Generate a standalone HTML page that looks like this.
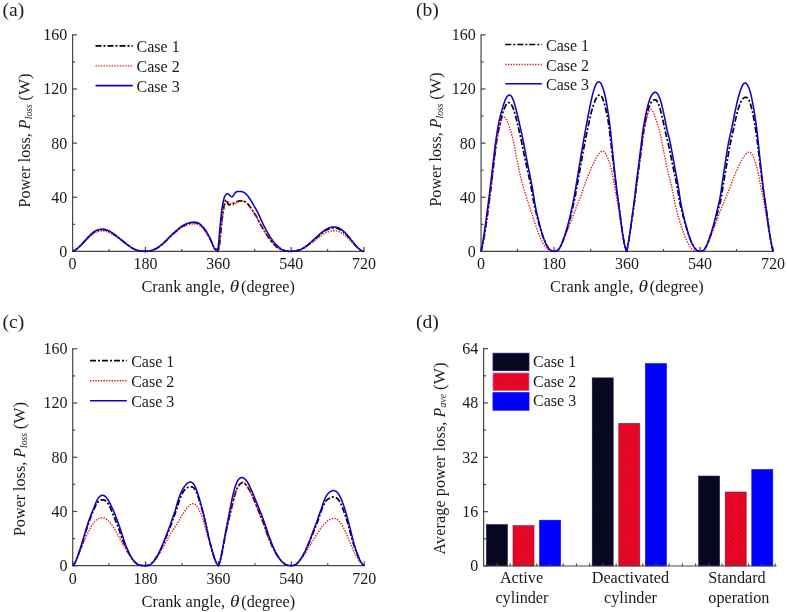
<!DOCTYPE html>
<html><head><meta charset="utf-8"><title>Power loss</title>
<style>html,body{margin:0;padding:0;background:#fff;}body{width:787px;height:612px;overflow:hidden;font-family:"Liberation Serif",serif;}svg{display:block;will-change:transform;}</style>
</head><body>
<svg width="787" height="612" viewBox="0 0 787 612" font-family="Liberation Serif, serif" fill="#1a1a1a">
<rect width="787" height="612" fill="#fff"/>
<g stroke="#484848" stroke-width="1.2" fill="none">
<path d="M72.6 34.199999999999996 V251.4 H364.6"/>
<path d="M72.6 251.40 h4.5"/>
<path d="M72.6 224.33 h2.5"/>
<path d="M72.6 197.25 h4.5"/>
<path d="M72.6 170.18 h2.5"/>
<path d="M72.6 143.10 h4.5"/>
<path d="M72.6 116.02 h2.5"/>
<path d="M72.6 88.95 h4.5"/>
<path d="M72.6 61.87 h2.5"/>
<path d="M72.6 34.80 h4.5"/>
<path d="M72.60 251.4 v-4.5"/>
<path d="M109.02 251.4 v-2.5"/>
<path d="M145.45 251.4 v-4.5"/>
<path d="M181.88 251.4 v-2.5"/>
<path d="M218.30 251.4 v-4.5"/>
<path d="M254.72 251.4 v-2.5"/>
<path d="M291.15 251.4 v-4.5"/>
<path d="M327.57 251.4 v-2.5"/>
<path d="M364.00 251.4 v-4.5"/>
</g>
<clipPath id="cla"><rect x="70.60" y="29.80" width="295.40" height="223.00"/></clipPath>
<g clip-path="url(#cla)" fill="none" stroke-linejoin="round">
<path d="M72.60 251.40 L73.00 251.21 L73.41 251.01 L73.81 250.81 L74.22 250.60 L74.62 250.37 L75.03 250.13 L75.43 249.88 L75.84 249.61 L76.24 249.34 L76.65 249.05 L77.05 248.74 L77.46 248.41 L77.86 248.07 L78.27 247.72 L78.67 247.36 L79.08 246.98 L79.48 246.60 L79.88 246.21 L80.29 245.82 L80.69 245.42 L81.10 245.01 L81.50 244.59 L81.91 244.16 L82.31 243.72 L82.72 243.28 L83.12 242.83 L83.53 242.38 L83.93 241.94 L84.34 241.49 L84.74 241.04 L85.15 240.60 L85.55 240.16 L85.96 239.72 L86.36 239.29 L86.77 238.85 L87.17 238.41 L87.57 237.97 L87.98 237.54 L88.38 237.11 L88.79 236.69 L89.19 236.27 L89.60 235.87 L90.00 235.49 L90.41 235.11 L90.81 234.74 L91.22 234.38 L91.62 234.03 L92.03 233.68 L92.43 233.33 L92.84 233.00 L93.24 232.67 L93.65 232.37 L94.05 232.07 L94.45 231.80 L94.86 231.55 L95.26 231.32 L95.67 231.12 L96.07 230.93 L96.48 230.76 L96.88 230.61 L97.29 230.47 L97.69 230.34 L98.10 230.23 L98.50 230.12 L98.91 230.03 L99.31 229.94 L99.72 229.87 L100.12 229.80 L100.53 229.74 L100.93 229.68 L101.34 229.63 L101.74 229.60 L102.14 229.58 L102.55 229.57 L102.95 229.58 L103.36 229.60 L103.76 229.63 L104.17 229.68 L104.57 229.73 L104.98 229.80 L105.38 229.87 L105.79 229.96 L106.19 230.07 L106.60 230.19 L107.00 230.34 L107.41 230.50 L107.81 230.68 L108.22 230.87 L108.62 231.07 L109.02 231.28 L109.43 231.49 L109.83 231.70 L110.24 231.92 L110.64 232.16 L111.05 232.40 L111.45 232.64 L111.86 232.90 L112.26 233.16 L112.67 233.42 L113.07 233.69 L113.48 233.97 L113.88 234.24 L114.29 234.52 L114.69 234.81 L115.10 235.10 L115.50 235.39 L115.91 235.69 L116.31 235.99 L116.71 236.30 L117.12 236.61 L117.52 236.93 L117.93 237.25 L118.33 237.57 L118.74 237.89 L119.14 238.21 L119.55 238.54 L119.95 238.86 L120.36 239.18 L120.76 239.50 L121.17 239.82 L121.57 240.14 L121.98 240.46 L122.38 240.78 L122.79 241.11 L123.19 241.43 L123.59 241.76 L124.00 242.09 L124.40 242.41 L124.81 242.74 L125.21 243.07 L125.62 243.39 L126.02 243.71 L126.43 244.03 L126.83 244.34 L127.24 244.64 L127.64 244.94 L128.05 245.23 L128.45 245.51 L128.86 245.79 L129.26 246.06 L129.67 246.34 L130.07 246.61 L130.48 246.88 L130.88 247.15 L131.28 247.42 L131.69 247.68 L132.09 247.94 L132.50 248.19 L132.90 248.43 L133.31 248.66 L133.71 248.89 L134.12 249.10 L134.52 249.29 L134.93 249.47 L135.33 249.64 L135.74 249.79 L136.14 249.93 L136.55 250.05 L136.95 250.17 L137.36 250.28 L137.76 250.39 L138.16 250.49 L138.57 250.59 L138.97 250.68 L139.38 250.76 L139.78 250.84 L140.19 250.91 L140.59 250.98 L141.00 251.04 L141.40 251.10 L141.81 251.15 L142.21 251.19 L142.62 251.23 L143.02 251.26 L143.43 251.30 L143.83 251.33 L144.24 251.35 L144.64 251.37 L145.05 251.38 L145.45 251.38 L145.85 251.37 L146.26 251.36 L146.66 251.33 L147.07 251.30 L147.47 251.26 L147.88 251.21 L148.28 251.16 L148.69 251.10 L149.09 251.04 L149.50 250.97 L149.90 250.90 L150.31 250.82 L150.71 250.74 L151.12 250.64 L151.52 250.53 L151.93 250.41 L152.33 250.27 L152.73 250.13 L153.14 249.98 L153.54 249.82 L153.95 249.65 L154.35 249.48 L154.76 249.30 L155.16 249.11 L155.57 248.91 L155.97 248.71 L156.38 248.49 L156.78 248.26 L157.19 248.01 L157.59 247.76 L158.00 247.49 L158.40 247.22 L158.81 246.94 L159.21 246.65 L159.62 246.36 L160.02 246.06 L160.42 245.75 L160.83 245.43 L161.23 245.11 L161.64 244.77 L162.04 244.43 L162.45 244.08 L162.85 243.72 L163.26 243.35 L163.66 242.97 L164.07 242.60 L164.47 242.22 L164.88 241.83 L165.28 241.45 L165.69 241.05 L166.09 240.66 L166.50 240.26 L166.90 239.85 L167.30 239.43 L167.71 239.02 L168.11 238.60 L168.52 238.18 L168.92 237.76 L169.33 237.35 L169.73 236.95 L170.14 236.55 L170.54 236.15 L170.95 235.77 L171.35 235.39 L171.76 235.02 L172.16 234.65 L172.57 234.28 L172.97 233.92 L173.38 233.57 L173.78 233.21 L174.19 232.86 L174.59 232.50 L174.99 232.15 L175.40 231.80 L175.80 231.45 L176.21 231.10 L176.61 230.75 L177.02 230.39 L177.42 230.03 L177.83 229.68 L178.23 229.33 L178.64 228.99 L179.04 228.65 L179.45 228.33 L179.85 228.01 L180.26 227.71 L180.66 227.43 L181.07 227.15 L181.47 226.88 L181.88 226.62 L182.28 226.37 L182.68 226.13 L183.09 225.89 L183.49 225.67 L183.90 225.45 L184.30 225.24 L184.71 225.04 L185.11 224.85 L185.52 224.66 L185.92 224.49 L186.33 224.32 L186.73 224.16 L187.14 224.00 L187.54 223.85 L187.95 223.70 L188.35 223.55 L188.76 223.42 L189.16 223.30 L189.56 223.19 L189.97 223.09 L190.37 223.00 L190.78 222.93 L191.18 222.87 L191.59 222.81 L191.99 222.77 L192.40 222.73 L192.80 222.69 L193.21 222.66 L193.61 222.64 L194.02 222.62 L194.42 222.62 L194.83 222.64 L195.23 222.67 L195.64 222.72 L196.04 222.79 L196.44 222.87 L196.85 222.98 L197.25 223.10 L197.66 223.24 L198.06 223.39 L198.47 223.57 L198.87 223.79 L199.28 224.04 L199.68 224.32 L200.09 224.64 L200.49 224.98 L200.90 225.35 L201.30 225.74 L201.71 226.14 L202.11 226.55 L202.52 226.97 L202.92 227.42 L203.33 227.88 L203.73 228.36 L204.13 228.86 L204.54 229.38 L204.94 229.93 L205.35 230.49 L205.75 231.08 L206.16 231.68 L206.56 232.31 L206.97 232.96 L207.37 233.63 L207.78 234.33 L208.18 235.06 L208.59 235.82 L208.99 236.59 L209.40 237.38 L209.80 238.20 L210.21 239.04 L210.61 239.91 L211.01 240.80 L211.42 241.73 L211.82 242.67 L212.23 243.63 L212.63 244.59 L213.04 245.53 L213.44 246.45 L213.85 247.33 L214.25 248.15 L214.66 248.85 L215.06 249.38 L215.47 249.66 L215.87 249.67 L216.28 249.46 L216.68 249.23 L217.09 249.22 L217.49 249.59 L217.90 250.37 L218.30 251.40 L218.30 251.40 L218.70 249.36 L219.11 246.99 L219.51 244.07 L219.92 240.57 L220.32 236.58 L220.73 232.36 L221.13 228.15 L221.54 224.15 L221.94 220.47 L222.35 217.13 L222.75 214.10 L223.16 211.32 L223.56 208.76 L223.97 206.41 L224.37 204.34 L224.78 202.58 L225.18 201.21 L225.58 200.27 L225.99 199.85 L226.39 199.97 L226.80 200.62 L227.20 201.63 L227.61 202.75 L228.01 203.74 L228.42 204.42 L228.82 204.76 L229.23 204.84 L229.63 204.75 L230.04 204.58 L230.44 204.38 L230.85 204.18 L231.25 203.99 L231.66 203.82 L232.06 203.66 L232.47 203.52 L232.87 203.39 L233.27 203.28 L233.68 203.16 L234.08 203.04 L234.49 202.90 L234.89 202.75 L235.30 202.59 L235.70 202.40 L236.11 202.21 L236.51 202.02 L236.92 201.82 L237.32 201.64 L237.73 201.46 L238.13 201.30 L238.54 201.15 L238.94 201.02 L239.35 200.92 L239.75 200.85 L240.15 200.81 L240.56 200.79 L240.96 200.78 L241.37 200.77 L241.77 200.78 L242.18 200.80 L242.58 200.83 L242.99 200.89 L243.39 200.98 L243.80 201.10 L244.20 201.26 L244.61 201.44 L245.01 201.65 L245.42 201.90 L245.82 202.18 L246.23 202.51 L246.63 202.87 L247.04 203.26 L247.44 203.67 L247.84 204.12 L248.25 204.59 L248.65 205.08 L249.06 205.60 L249.46 206.13 L249.87 206.67 L250.27 207.21 L250.68 207.76 L251.08 208.31 L251.49 208.87 L251.89 209.44 L252.30 210.02 L252.70 210.61 L253.11 211.22 L253.51 211.85 L253.92 212.49 L254.32 213.13 L254.72 213.79 L255.13 214.44 L255.53 215.10 L255.94 215.76 L256.34 216.43 L256.75 217.12 L257.15 217.82 L257.56 218.56 L257.96 219.33 L258.37 220.14 L258.77 220.96 L259.18 221.79 L259.58 222.61 L259.99 223.41 L260.39 224.18 L260.80 224.92 L261.20 225.65 L261.61 226.36 L262.01 227.06 L262.41 227.76 L262.82 228.45 L263.22 229.13 L263.63 229.82 L264.03 230.49 L264.44 231.16 L264.84 231.83 L265.25 232.48 L265.65 233.13 L266.06 233.77 L266.46 234.40 L266.87 235.02 L267.27 235.63 L267.68 236.23 L268.08 236.82 L268.49 237.41 L268.89 237.97 L269.29 238.53 L269.70 239.08 L270.10 239.61 L270.51 240.14 L270.91 240.66 L271.32 241.16 L271.72 241.66 L272.13 242.15 L272.53 242.64 L272.94 243.11 L273.34 243.58 L273.75 244.03 L274.15 244.48 L274.56 244.91 L274.96 245.33 L275.37 245.74 L275.77 246.13 L276.18 246.52 L276.58 246.88 L276.98 247.23 L277.39 247.55 L277.79 247.85 L278.20 248.13 L278.60 248.39 L279.01 248.63 L279.41 248.85 L279.82 249.06 L280.22 249.25 L280.63 249.43 L281.03 249.60 L281.44 249.75 L281.84 249.90 L282.25 250.03 L282.65 250.16 L283.06 250.28 L283.46 250.39 L283.87 250.49 L284.27 250.59 L284.67 250.68 L285.08 250.77 L285.48 250.85 L285.89 250.93 L286.29 251.01 L286.70 251.09 L287.10 251.16 L287.51 251.22 L287.91 251.28 L288.32 251.32 L288.72 251.36 L289.13 251.38 L289.53 251.39 L289.94 251.40 L290.34 251.40 L290.75 251.39 L291.15 251.39 L291.55 251.38 L291.96 251.36 L292.36 251.33 L292.77 251.30 L293.17 251.25 L293.58 251.20 L293.98 251.15 L294.39 251.09 L294.79 251.03 L295.20 250.97 L295.60 250.90 L296.01 250.83 L296.41 250.75 L296.82 250.66 L297.22 250.57 L297.63 250.47 L298.03 250.36 L298.43 250.25 L298.84 250.13 L299.24 250.00 L299.65 249.86 L300.05 249.72 L300.46 249.57 L300.86 249.41 L301.27 249.24 L301.67 249.05 L302.08 248.85 L302.48 248.64 L302.89 248.41 L303.29 248.17 L303.70 247.92 L304.10 247.67 L304.51 247.40 L304.91 247.14 L305.32 246.86 L305.72 246.59 L306.12 246.31 L306.53 246.02 L306.93 245.72 L307.34 245.42 L307.74 245.11 L308.15 244.79 L308.55 244.47 L308.96 244.14 L309.36 243.81 L309.77 243.48 L310.17 243.14 L310.58 242.81 L310.98 242.47 L311.39 242.13 L311.79 241.79 L312.20 241.44 L312.60 241.09 L313.00 240.74 L313.41 240.39 L313.81 240.04 L314.22 239.68 L314.62 239.32 L315.03 238.97 L315.43 238.61 L315.84 238.26 L316.24 237.90 L316.65 237.55 L317.05 237.19 L317.46 236.83 L317.86 236.47 L318.27 236.11 L318.67 235.75 L319.08 235.39 L319.48 235.04 L319.89 234.70 L320.29 234.36 L320.69 234.03 L321.10 233.71 L321.50 233.39 L321.91 233.08 L322.31 232.77 L322.72 232.46 L323.12 232.17 L323.53 231.87 L323.93 231.59 L324.34 231.31 L324.74 231.04 L325.15 230.79 L325.55 230.54 L325.96 230.31 L326.36 230.09 L326.77 229.88 L327.17 229.67 L327.57 229.48 L327.98 229.29 L328.38 229.11 L328.79 228.94 L329.19 228.79 L329.60 228.65 L330.00 228.53 L330.41 228.42 L330.81 228.33 L331.22 228.24 L331.62 228.16 L332.03 228.09 L332.43 228.02 L332.84 227.97 L333.24 227.94 L333.65 227.91 L334.05 227.91 L334.46 227.92 L334.86 227.95 L335.26 227.99 L335.67 228.04 L336.07 228.11 L336.48 228.19 L336.88 228.27 L337.29 228.37 L337.69 228.49 L338.10 228.62 L338.50 228.78 L338.91 228.97 L339.31 229.18 L339.72 229.40 L340.12 229.64 L340.53 229.90 L340.93 230.16 L341.34 230.43 L341.74 230.71 L342.14 230.99 L342.55 231.29 L342.95 231.60 L343.36 231.92 L343.76 232.25 L344.17 232.60 L344.57 232.96 L344.98 233.33 L345.38 233.71 L345.79 234.10 L346.19 234.50 L346.60 234.93 L347.00 235.36 L347.41 235.81 L347.81 236.27 L348.22 236.74 L348.62 237.21 L349.03 237.68 L349.43 238.16 L349.83 238.64 L350.24 239.12 L350.64 239.61 L351.05 240.10 L351.45 240.59 L351.86 241.09 L352.26 241.58 L352.67 242.07 L353.07 242.55 L353.48 243.03 L353.88 243.51 L354.29 243.98 L354.69 244.44 L355.10 244.91 L355.50 245.37 L355.91 245.82 L356.31 246.26 L356.72 246.68 L357.12 247.09 L357.52 247.49 L357.93 247.87 L358.33 248.24 L358.74 248.60 L359.14 248.95 L359.55 249.29 L359.95 249.61 L360.36 249.91 L360.76 250.19 L361.17 250.43 L361.57 250.65 L361.98 250.83 L362.38 250.98 L362.79 251.11 L363.19 251.22 L363.60 251.32 L364.00 251.40" stroke="#000000" stroke-width="1.7" stroke-dasharray="6 2 2 2"/>
<path d="M72.60 251.40 L73.00 251.22 L73.41 251.04 L73.81 250.85 L74.22 250.65 L74.62 250.44 L75.03 250.21 L75.43 249.98 L75.84 249.74 L76.24 249.48 L76.65 249.20 L77.05 248.92 L77.46 248.62 L77.86 248.30 L78.27 247.97 L78.67 247.63 L79.08 247.28 L79.48 246.93 L79.88 246.57 L80.29 246.20 L80.69 245.82 L81.10 245.44 L81.50 245.04 L81.91 244.64 L82.31 244.23 L82.72 243.82 L83.12 243.40 L83.53 242.98 L83.93 242.56 L84.34 242.14 L84.74 241.72 L85.15 241.31 L85.55 240.90 L85.96 240.49 L86.36 240.08 L86.77 239.67 L87.17 239.26 L87.57 238.85 L87.98 238.44 L88.38 238.04 L88.79 237.65 L89.19 237.26 L89.60 236.89 L90.00 236.53 L90.41 236.18 L90.81 235.83 L91.22 235.50 L91.62 235.16 L92.03 234.84 L92.43 234.52 L92.84 234.20 L93.24 233.90 L93.65 233.61 L94.05 233.34 L94.45 233.09 L94.86 232.85 L95.26 232.64 L95.67 232.45 L96.07 232.28 L96.48 232.12 L96.88 231.98 L97.29 231.85 L97.69 231.73 L98.10 231.63 L98.50 231.53 L98.91 231.44 L99.31 231.36 L99.72 231.29 L100.12 231.23 L100.53 231.16 L100.93 231.11 L101.34 231.07 L101.74 231.03 L102.14 231.01 L102.55 231.00 L102.95 231.01 L103.36 231.03 L103.76 231.06 L104.17 231.11 L104.57 231.16 L104.98 231.22 L105.38 231.30 L105.79 231.38 L106.19 231.48 L106.60 231.60 L107.00 231.74 L107.41 231.89 L107.81 232.06 L108.22 232.23 L108.62 232.42 L109.02 232.61 L109.43 232.81 L109.83 233.01 L110.24 233.22 L110.64 233.43 L111.05 233.66 L111.45 233.89 L111.86 234.12 L112.26 234.37 L112.67 234.61 L113.07 234.87 L113.48 235.12 L113.88 235.38 L114.29 235.64 L114.69 235.90 L115.10 236.17 L115.50 236.44 L115.91 236.72 L116.31 237.01 L116.71 237.29 L117.12 237.58 L117.52 237.88 L117.93 238.18 L118.33 238.48 L118.74 238.78 L119.14 239.08 L119.55 239.38 L119.95 239.68 L120.36 239.98 L120.76 240.28 L121.17 240.58 L121.57 240.88 L121.98 241.18 L122.38 241.48 L122.79 241.78 L123.19 242.08 L123.59 242.39 L124.00 242.70 L124.40 243.01 L124.81 243.31 L125.21 243.62 L125.62 243.92 L126.02 244.22 L126.43 244.52 L126.83 244.81 L127.24 245.09 L127.64 245.37 L128.05 245.64 L128.45 245.91 L128.86 246.17 L129.26 246.42 L129.67 246.68 L130.07 246.93 L130.48 247.19 L130.88 247.44 L131.28 247.69 L131.69 247.93 L132.09 248.17 L132.50 248.40 L132.90 248.63 L133.31 248.85 L133.71 249.05 L134.12 249.25 L134.52 249.43 L134.93 249.60 L135.33 249.75 L135.74 249.89 L136.14 250.02 L136.55 250.14 L136.95 250.25 L137.36 250.36 L137.76 250.46 L138.16 250.55 L138.57 250.64 L138.97 250.72 L139.38 250.80 L139.78 250.88 L140.19 250.95 L140.59 251.01 L141.00 251.06 L141.40 251.12 L141.81 251.16 L142.21 251.20 L142.62 251.24 L143.02 251.27 L143.43 251.30 L143.83 251.33 L144.24 251.35 L144.64 251.37 L145.05 251.38 L145.45 251.38 L145.85 251.38 L146.26 251.36 L146.66 251.34 L147.07 251.30 L147.47 251.26 L147.88 251.22 L148.28 251.17 L148.69 251.11 L149.09 251.05 L149.50 250.98 L149.90 250.91 L150.31 250.84 L150.71 250.75 L151.12 250.66 L151.52 250.55 L151.93 250.44 L152.33 250.31 L152.73 250.17 L153.14 250.03 L153.54 249.88 L153.95 249.72 L154.35 249.55 L154.76 249.38 L155.16 249.20 L155.57 249.02 L155.97 248.82 L156.38 248.61 L156.78 248.39 L157.19 248.16 L157.59 247.92 L158.00 247.67 L158.40 247.41 L158.81 247.14 L159.21 246.87 L159.62 246.59 L160.02 246.30 L160.42 246.01 L160.83 245.71 L161.23 245.40 L161.64 245.08 L162.04 244.75 L162.45 244.42 L162.85 244.07 L163.26 243.72 L163.66 243.37 L164.07 243.01 L164.47 242.65 L164.88 242.28 L165.28 241.91 L165.69 241.54 L166.09 241.16 L166.50 240.77 L166.90 240.38 L167.30 239.99 L167.71 239.59 L168.11 239.19 L168.52 238.79 L168.92 238.39 L169.33 238.00 L169.73 237.61 L170.14 237.23 L170.54 236.85 L170.95 236.49 L171.35 236.12 L171.76 235.77 L172.16 235.42 L172.57 235.07 L172.97 234.72 L173.38 234.38 L173.78 234.04 L174.19 233.70 L174.59 233.37 L174.99 233.03 L175.40 232.70 L175.80 232.36 L176.21 232.03 L176.61 231.69 L177.02 231.35 L177.42 231.01 L177.83 230.68 L178.23 230.34 L178.64 230.02 L179.04 229.70 L179.45 229.39 L179.85 229.09 L180.26 228.80 L180.66 228.53 L181.07 228.26 L181.47 228.01 L181.88 227.76 L182.28 227.52 L182.68 227.29 L183.09 227.06 L183.49 226.85 L183.90 226.64 L184.30 226.44 L184.71 226.24 L185.11 226.06 L185.52 225.89 L185.92 225.72 L186.33 225.56 L186.73 225.40 L187.14 225.25 L187.54 225.10 L187.95 224.96 L188.35 224.82 L188.76 224.69 L189.16 224.58 L189.56 224.47 L189.97 224.37 L190.37 224.29 L190.78 224.22 L191.18 224.17 L191.59 224.12 L191.99 224.08 L192.40 224.04 L192.80 224.01 L193.21 223.98 L193.61 223.96 L194.02 223.95 L194.42 223.95 L194.83 223.96 L195.23 223.99 L195.64 224.03 L196.04 224.10 L196.44 224.18 L196.85 224.28 L197.25 224.39 L197.66 224.52 L198.06 224.67 L198.47 224.84 L198.87 225.04 L199.28 225.28 L199.68 225.55 L200.09 225.85 L200.49 226.18 L200.90 226.54 L201.30 226.91 L201.71 227.29 L202.11 227.68 L202.52 228.09 L202.92 228.51 L203.33 228.95 L203.73 229.41 L204.13 229.89 L204.54 230.39 L204.94 230.91 L205.35 231.44 L205.75 232.00 L206.16 232.58 L206.56 233.18 L206.97 233.80 L207.37 234.44 L207.78 235.11 L208.18 235.81 L208.59 236.53 L208.99 237.27 L209.40 238.03 L209.80 238.81 L210.21 239.61 L210.61 240.44 L211.01 241.29 L211.42 242.17 L211.82 243.07 L212.23 243.99 L212.63 244.90 L213.04 245.80 L213.44 246.67 L213.85 247.51 L214.25 248.29 L214.66 248.98 L215.06 249.53 L215.47 249.88 L215.87 250.01 L216.28 249.95 L216.68 249.85 L217.09 249.87 L217.49 250.14 L217.90 250.68 L218.30 251.40 L218.30 251.40 L218.70 249.38 L219.11 247.06 L219.51 244.23 L219.92 240.83 L220.32 236.97 L220.73 232.87 L221.13 228.74 L221.54 224.80 L221.94 221.14 L222.35 217.82 L222.75 214.82 L223.16 212.10 L223.56 209.63 L223.97 207.44 L224.37 205.57 L224.78 204.05 L225.18 202.87 L225.58 202.03 L225.99 201.50 L226.39 201.23 L226.80 201.19 L227.20 201.34 L227.61 201.61 L228.01 201.93 L228.42 202.25 L228.82 202.56 L229.23 202.86 L229.63 203.15 L230.04 203.43 L230.44 203.69 L230.85 203.94 L231.25 204.16 L231.66 204.34 L232.06 204.50 L232.47 204.62 L232.87 204.73 L233.27 204.79 L233.68 204.81 L234.08 204.76 L234.49 204.62 L234.89 204.37 L235.30 204.04 L235.70 203.66 L236.11 203.25 L236.51 202.85 L236.92 202.49 L237.32 202.16 L237.73 201.89 L238.13 201.66 L238.54 201.47 L238.94 201.32 L239.35 201.20 L239.75 201.13 L240.15 201.08 L240.56 201.06 L240.96 201.05 L241.37 201.05 L241.77 201.05 L242.18 201.07 L242.58 201.10 L242.99 201.16 L243.39 201.25 L243.80 201.37 L244.20 201.53 L244.61 201.71 L245.01 201.92 L245.42 202.17 L245.82 202.46 L246.23 202.78 L246.63 203.14 L247.04 203.53 L247.44 203.94 L247.84 204.39 L248.25 204.86 L248.65 205.35 L249.06 205.87 L249.46 206.40 L249.87 206.94 L250.27 207.48 L250.68 208.03 L251.08 208.58 L251.49 209.14 L251.89 209.71 L252.30 210.29 L252.70 210.88 L253.11 211.49 L253.51 212.12 L253.92 212.76 L254.32 213.40 L254.72 214.06 L255.13 214.71 L255.53 215.37 L255.94 216.03 L256.34 216.70 L256.75 217.39 L257.15 218.09 L257.56 218.83 L257.96 219.60 L258.37 220.41 L258.77 221.23 L259.18 222.06 L259.58 222.88 L259.99 223.68 L260.39 224.45 L260.80 225.20 L261.20 225.92 L261.61 226.63 L262.01 227.34 L262.41 228.03 L262.82 228.72 L263.22 229.41 L263.63 230.09 L264.03 230.77 L264.44 231.44 L264.84 232.10 L265.25 232.76 L265.65 233.40 L266.06 234.02 L266.46 234.64 L266.87 235.24 L267.27 235.84 L267.68 236.42 L268.08 237.00 L268.49 237.56 L268.89 238.12 L269.29 238.67 L269.70 239.21 L270.10 239.74 L270.51 240.27 L270.91 240.79 L271.32 241.30 L271.72 241.80 L272.13 242.29 L272.53 242.77 L272.94 243.25 L273.34 243.71 L273.75 244.17 L274.15 244.61 L274.56 245.04 L274.96 245.46 L275.37 245.87 L275.77 246.27 L276.18 246.65 L276.58 247.02 L276.98 247.37 L277.39 247.69 L277.79 247.99 L278.20 248.27 L278.60 248.53 L279.01 248.77 L279.41 248.99 L279.82 249.20 L280.22 249.40 L280.63 249.57 L281.03 249.74 L281.44 249.88 L281.84 250.01 L282.25 250.14 L282.65 250.25 L283.06 250.35 L283.46 250.45 L283.87 250.54 L284.27 250.62 L284.67 250.70 L285.08 250.78 L285.48 250.86 L285.89 250.94 L286.29 251.01 L286.70 251.08 L287.10 251.15 L287.51 251.22 L287.91 251.28 L288.32 251.32 L288.72 251.35 L289.13 251.38 L289.53 251.39 L289.94 251.40 L290.34 251.40 L290.75 251.40 L291.15 251.39 L291.55 251.38 L291.96 251.36 L292.36 251.34 L292.77 251.31 L293.17 251.27 L293.58 251.22 L293.98 251.18 L294.39 251.12 L294.79 251.07 L295.20 251.01 L295.60 250.95 L296.01 250.89 L296.41 250.82 L296.82 250.74 L297.22 250.66 L297.63 250.57 L298.03 250.48 L298.43 250.38 L298.84 250.27 L299.24 250.16 L299.65 250.04 L300.05 249.92 L300.46 249.79 L300.86 249.64 L301.27 249.49 L301.67 249.33 L302.08 249.16 L302.48 248.97 L302.89 248.77 L303.29 248.56 L303.70 248.34 L304.10 248.12 L304.51 247.88 L304.91 247.65 L305.32 247.41 L305.72 247.17 L306.12 246.92 L306.53 246.67 L306.93 246.41 L307.34 246.14 L307.74 245.87 L308.15 245.59 L308.55 245.30 L308.96 245.01 L309.36 244.72 L309.77 244.43 L310.17 244.13 L310.58 243.83 L310.98 243.54 L311.39 243.24 L311.79 242.94 L312.20 242.63 L312.60 242.33 L313.00 242.02 L313.41 241.71 L313.81 241.40 L314.22 241.09 L314.62 240.78 L315.03 240.46 L315.43 240.15 L315.84 239.84 L316.24 239.53 L316.65 239.21 L317.05 238.89 L317.46 238.58 L317.86 238.26 L318.27 237.94 L318.67 237.62 L319.08 237.31 L319.48 237.00 L319.89 236.69 L320.29 236.40 L320.69 236.10 L321.10 235.82 L321.50 235.54 L321.91 235.26 L322.31 234.99 L322.72 234.72 L323.12 234.46 L323.53 234.20 L323.93 233.95 L324.34 233.71 L324.74 233.47 L325.15 233.25 L325.55 233.03 L325.96 232.83 L326.36 232.63 L326.77 232.45 L327.17 232.27 L327.57 232.09 L327.98 231.93 L328.38 231.77 L328.79 231.62 L329.19 231.49 L329.60 231.37 L330.00 231.26 L330.41 231.17 L330.81 231.09 L331.22 231.01 L331.62 230.94 L332.03 230.88 L332.43 230.83 L332.84 230.79 L333.24 230.75 L333.65 230.74 L334.05 230.73 L334.46 230.74 L334.86 230.76 L335.26 230.80 L335.67 230.85 L336.07 230.90 L336.48 230.97 L336.88 231.04 L337.29 231.13 L337.69 231.23 L338.10 231.34 L338.50 231.48 L338.91 231.65 L339.31 231.83 L339.72 232.03 L340.12 232.24 L340.53 232.47 L340.93 232.70 L341.34 232.94 L341.74 233.18 L342.14 233.44 L342.55 233.70 L342.95 233.97 L343.36 234.25 L343.76 234.55 L344.17 234.85 L344.57 235.17 L344.98 235.49 L345.38 235.83 L345.79 236.17 L346.19 236.53 L346.60 236.90 L347.00 237.28 L347.41 237.67 L347.81 238.07 L348.22 238.48 L348.62 238.90 L349.03 239.32 L349.43 239.74 L349.83 240.16 L350.24 240.59 L350.64 241.02 L351.05 241.45 L351.45 241.89 L351.86 242.32 L352.26 242.76 L352.67 243.19 L353.07 243.62 L353.48 244.04 L353.88 244.46 L354.29 244.88 L354.69 245.29 L355.10 245.69 L355.50 246.10 L355.91 246.49 L356.31 246.88 L356.72 247.25 L357.12 247.61 L357.52 247.96 L357.93 248.29 L358.33 248.62 L358.74 248.93 L359.14 249.24 L359.55 249.54 L359.95 249.82 L360.36 250.08 L360.76 250.32 L361.17 250.54 L361.57 250.73 L361.98 250.89 L362.38 251.03 L362.79 251.14 L363.19 251.24 L363.60 251.32 L364.00 251.40" stroke="#e01818" stroke-width="1.4" stroke-dasharray="1.35 1.35"/>
<path d="M72.60 251.40 L73.00 251.21 L73.41 251.01 L73.81 250.80 L74.22 250.58 L74.62 250.35 L75.03 250.11 L75.43 249.86 L75.84 249.59 L76.24 249.31 L76.65 249.01 L77.05 248.70 L77.46 248.37 L77.86 248.03 L78.27 247.67 L78.67 247.30 L79.08 246.92 L79.48 246.53 L79.88 246.14 L80.29 245.74 L80.69 245.33 L81.10 244.91 L81.50 244.49 L81.91 244.05 L82.31 243.61 L82.72 243.16 L83.12 242.70 L83.53 242.25 L83.93 241.79 L84.34 241.33 L84.74 240.88 L85.15 240.43 L85.55 239.99 L85.96 239.54 L86.36 239.10 L86.77 238.65 L87.17 238.20 L87.57 237.76 L87.98 237.32 L88.38 236.88 L88.79 236.46 L89.19 236.04 L89.60 235.63 L90.00 235.24 L90.41 234.85 L90.81 234.48 L91.22 234.12 L91.62 233.76 L92.03 233.40 L92.43 233.05 L92.84 232.71 L93.24 232.39 L93.65 232.07 L94.05 231.78 L94.45 231.50 L94.86 231.25 L95.26 231.01 L95.67 230.81 L96.07 230.62 L96.48 230.45 L96.88 230.29 L97.29 230.15 L97.69 230.02 L98.10 229.91 L98.50 229.80 L98.91 229.70 L99.31 229.62 L99.72 229.54 L100.12 229.47 L100.53 229.41 L100.93 229.35 L101.34 229.30 L101.74 229.26 L102.14 229.24 L102.55 229.23 L102.95 229.24 L103.36 229.26 L103.76 229.30 L104.17 229.34 L104.57 229.40 L104.98 229.47 L105.38 229.55 L105.79 229.64 L106.19 229.75 L106.60 229.88 L107.00 230.02 L107.41 230.19 L107.81 230.37 L108.22 230.57 L108.62 230.77 L109.02 230.98 L109.43 231.19 L109.83 231.41 L110.24 231.63 L110.64 231.87 L111.05 232.11 L111.45 232.36 L111.86 232.62 L112.26 232.88 L112.67 233.15 L113.07 233.43 L113.48 233.70 L113.88 233.98 L114.29 234.27 L114.69 234.55 L115.10 234.84 L115.50 235.14 L115.91 235.44 L116.31 235.75 L116.71 236.07 L117.12 236.38 L117.52 236.70 L117.93 237.03 L118.33 237.35 L118.74 237.68 L119.14 238.01 L119.55 238.34 L119.95 238.66 L120.36 238.99 L120.76 239.32 L121.17 239.64 L121.57 239.97 L121.98 240.29 L122.38 240.62 L122.79 240.94 L123.19 241.28 L123.59 241.61 L124.00 241.94 L124.40 242.28 L124.81 242.61 L125.21 242.94 L125.62 243.27 L126.02 243.59 L126.43 243.91 L126.83 244.23 L127.24 244.54 L127.64 244.84 L128.05 245.14 L128.45 245.42 L128.86 245.71 L129.26 245.99 L129.67 246.26 L130.07 246.54 L130.48 246.81 L130.88 247.09 L131.28 247.36 L131.69 247.62 L132.09 247.88 L132.50 248.14 L132.90 248.38 L133.31 248.62 L133.71 248.84 L134.12 249.06 L134.52 249.26 L134.93 249.44 L135.33 249.61 L135.74 249.76 L136.14 249.90 L136.55 250.03 L136.95 250.15 L137.36 250.26 L137.76 250.37 L138.16 250.48 L138.57 250.57 L138.97 250.67 L139.38 250.75 L139.78 250.83 L140.19 250.91 L140.59 250.98 L141.00 251.04 L141.40 251.09 L141.81 251.14 L142.21 251.19 L142.62 251.23 L143.02 251.26 L143.43 251.30 L143.83 251.33 L144.24 251.35 L144.64 251.37 L145.05 251.38 L145.45 251.38 L145.85 251.37 L146.26 251.36 L146.66 251.33 L147.07 251.30 L147.47 251.26 L147.88 251.21 L148.28 251.15 L148.69 251.09 L149.09 251.03 L149.50 250.96 L149.90 250.89 L150.31 250.81 L150.71 250.72 L151.12 250.62 L151.52 250.51 L151.93 250.38 L152.33 250.25 L152.73 250.10 L153.14 249.95 L153.54 249.79 L153.95 249.62 L154.35 249.44 L154.76 249.26 L155.16 249.07 L155.57 248.87 L155.97 248.66 L156.38 248.44 L156.78 248.21 L157.19 247.96 L157.59 247.70 L158.00 247.43 L158.40 247.16 L158.81 246.87 L159.21 246.58 L159.62 246.28 L160.02 245.98 L160.42 245.67 L160.83 245.35 L161.23 245.02 L161.64 244.68 L162.04 244.33 L162.45 243.97 L162.85 243.60 L163.26 243.23 L163.66 242.85 L164.07 242.47 L164.47 242.08 L164.88 241.69 L165.28 241.30 L165.69 240.90 L166.09 240.50 L166.50 240.09 L166.90 239.68 L167.30 239.26 L167.71 238.83 L168.11 238.41 L168.52 237.98 L168.92 237.56 L169.33 237.14 L169.73 236.73 L170.14 236.32 L170.54 235.93 L170.95 235.54 L171.35 235.15 L171.76 234.77 L172.16 234.40 L172.57 234.03 L172.97 233.66 L173.38 233.30 L173.78 232.94 L174.19 232.58 L174.59 232.22 L174.99 231.87 L175.40 231.51 L175.80 231.15 L176.21 230.80 L176.61 230.44 L177.02 230.07 L177.42 229.71 L177.83 229.35 L178.23 229.00 L178.64 228.65 L179.04 228.31 L179.45 227.98 L179.85 227.66 L180.26 227.36 L180.66 227.06 L181.07 226.78 L181.47 226.51 L181.88 226.25 L182.28 225.99 L182.68 225.75 L183.09 225.51 L183.49 225.28 L183.90 225.06 L184.30 224.84 L184.71 224.64 L185.11 224.45 L185.52 224.26 L185.92 224.08 L186.33 223.91 L186.73 223.75 L187.14 223.59 L187.54 223.43 L187.95 223.28 L188.35 223.13 L188.76 223.00 L189.16 222.87 L189.56 222.76 L189.97 222.66 L190.37 222.57 L190.78 222.49 L191.18 222.43 L191.59 222.38 L191.99 222.33 L192.40 222.29 L192.80 222.26 L193.21 222.23 L193.61 222.20 L194.02 222.19 L194.42 222.19 L194.83 222.20 L195.23 222.23 L195.64 222.28 L196.04 222.35 L196.44 222.44 L196.85 222.55 L197.25 222.67 L197.66 222.80 L198.06 222.96 L198.47 223.14 L198.87 223.36 L199.28 223.61 L199.68 223.90 L200.09 224.22 L200.49 224.58 L200.90 224.95 L201.30 225.34 L201.71 225.75 L202.11 226.17 L202.52 226.60 L202.92 227.05 L203.33 227.51 L203.73 228.00 L204.13 228.51 L204.54 229.05 L204.94 229.60 L205.35 230.17 L205.75 230.76 L206.16 231.38 L206.56 232.01 L206.97 232.67 L207.37 233.36 L207.78 234.07 L208.18 234.81 L208.59 235.58 L208.99 236.36 L209.40 237.17 L209.80 238.00 L210.21 238.85 L210.61 239.73 L211.01 240.64 L211.42 241.58 L211.82 242.54 L212.23 243.52 L212.63 244.49 L213.04 245.45 L213.44 246.38 L213.85 247.27 L214.25 248.09 L214.66 248.81 L215.06 249.35 L215.47 249.65 L215.87 249.71 L216.28 249.62 L216.68 249.59 L217.09 249.85 L217.49 250.49 L217.90 251.40 L217.90 251.40 L218.30 246.94 L218.70 242.40 L219.11 237.76 L219.51 233.07 L219.92 228.44 L220.32 223.99 L220.73 219.81 L221.13 215.94 L221.54 212.42 L221.94 209.26 L222.35 206.48 L222.75 204.04 L223.16 201.93 L223.56 200.13 L223.97 198.61 L224.37 197.36 L224.78 196.35 L225.18 195.56 L225.58 194.94 L225.99 194.48 L226.39 194.15 L226.80 193.94 L227.20 193.84 L227.61 193.85 L228.01 193.96 L228.42 194.16 L228.82 194.45 L229.23 194.80 L229.63 195.20 L230.04 195.62 L230.44 196.02 L230.85 196.36 L231.25 196.60 L231.66 196.73 L232.06 196.72 L232.47 196.54 L232.87 196.22 L233.27 195.75 L233.68 195.19 L234.08 194.55 L234.49 193.91 L234.89 193.30 L235.30 192.78 L235.70 192.36 L236.11 192.04 L236.51 191.81 L236.92 191.66 L237.32 191.57 L237.73 191.51 L238.13 191.48 L238.54 191.46 L238.94 191.45 L239.35 191.44 L239.75 191.45 L240.15 191.46 L240.56 191.48 L240.96 191.51 L241.37 191.55 L241.77 191.61 L242.18 191.69 L242.58 191.81 L242.99 191.96 L243.39 192.13 L243.80 192.34 L244.20 192.58 L244.61 192.84 L245.01 193.13 L245.42 193.45 L245.82 193.80 L246.23 194.19 L246.63 194.61 L247.04 195.06 L247.44 195.54 L247.84 196.04 L248.25 196.58 L248.65 197.13 L249.06 197.70 L249.46 198.29 L249.87 198.90 L250.27 199.52 L250.68 200.16 L251.08 200.81 L251.49 201.47 L251.89 202.15 L252.30 202.83 L252.70 203.53 L253.11 204.23 L253.51 204.93 L253.92 205.64 L254.32 206.34 L254.72 207.05 L255.13 207.75 L255.53 208.46 L255.94 209.18 L256.34 209.91 L256.75 210.64 L257.15 211.39 L257.56 212.15 L257.96 212.92 L258.37 213.73 L258.77 214.56 L259.18 215.43 L259.58 216.34 L259.99 217.27 L260.39 218.22 L260.80 219.17 L261.20 220.10 L261.61 221.00 L262.01 221.88 L262.41 222.73 L262.82 223.56 L263.22 224.38 L263.63 225.19 L264.03 225.98 L264.44 226.77 L264.84 227.56 L265.25 228.33 L265.65 229.10 L266.06 229.86 L266.46 230.61 L266.87 231.35 L267.27 232.08 L267.68 232.79 L268.08 233.50 L268.49 234.20 L268.89 234.88 L269.29 235.55 L269.70 236.21 L270.10 236.85 L270.51 237.47 L270.91 238.08 L271.32 238.67 L271.72 239.24 L272.13 239.80 L272.53 240.34 L272.94 240.87 L273.34 241.39 L273.75 241.89 L274.15 242.38 L274.56 242.86 L274.96 243.32 L275.37 243.77 L275.77 244.21 L276.18 244.63 L276.58 245.04 L276.98 245.43 L277.39 245.81 L277.79 246.18 L278.20 246.54 L278.60 246.89 L279.01 247.23 L279.41 247.57 L279.82 247.90 L280.22 248.22 L280.63 248.54 L281.03 248.84 L281.44 249.12 L281.84 249.38 L282.25 249.62 L282.65 249.83 L283.06 250.02 L283.46 250.20 L283.87 250.35 L284.27 250.50 L284.67 250.62 L285.08 250.74 L285.48 250.84 L285.89 250.93 L286.29 251.02 L286.70 251.10 L287.10 251.17 L287.51 251.23 L287.91 251.28 L288.32 251.33 L288.72 251.36 L289.13 251.38 L289.53 251.39 L289.94 251.40 L290.34 251.40 L290.75 251.39 L291.15 251.39 L291.55 251.38 L291.96 251.36 L292.36 251.33 L292.77 251.29 L293.17 251.25 L293.58 251.19 L293.98 251.14 L294.39 251.08 L294.79 251.01 L295.20 250.94 L295.60 250.87 L296.01 250.80 L296.41 250.71 L296.82 250.63 L297.22 250.53 L297.63 250.43 L298.03 250.32 L298.43 250.20 L298.84 250.07 L299.24 249.94 L299.65 249.80 L300.05 249.65 L300.46 249.49 L300.86 249.33 L301.27 249.15 L301.67 248.96 L302.08 248.75 L302.48 248.52 L302.89 248.29 L303.29 248.04 L303.70 247.78 L304.10 247.51 L304.51 247.24 L304.91 246.96 L305.32 246.68 L305.72 246.39 L306.12 246.10 L306.53 245.80 L306.93 245.49 L307.34 245.17 L307.74 244.85 L308.15 244.52 L308.55 244.18 L308.96 243.84 L309.36 243.49 L309.77 243.14 L310.17 242.79 L310.58 242.44 L310.98 242.09 L311.39 241.74 L311.79 241.38 L312.20 241.02 L312.60 240.66 L313.00 240.30 L313.41 239.93 L313.81 239.56 L314.22 239.19 L314.62 238.82 L315.03 238.45 L315.43 238.08 L315.84 237.71 L316.24 237.34 L316.65 236.97 L317.05 236.60 L317.46 236.22 L317.86 235.85 L318.27 235.47 L318.67 235.10 L319.08 234.72 L319.48 234.36 L319.89 234.00 L320.29 233.65 L320.69 233.30 L321.10 232.97 L321.50 232.63 L321.91 232.31 L322.31 231.99 L322.72 231.67 L323.12 231.36 L323.53 231.05 L323.93 230.76 L324.34 230.47 L324.74 230.19 L325.15 229.92 L325.55 229.67 L325.96 229.43 L326.36 229.20 L326.77 228.97 L327.17 228.76 L327.57 228.56 L327.98 228.36 L328.38 228.18 L328.79 228.00 L329.19 227.84 L329.60 227.70 L330.00 227.58 L330.41 227.46 L330.81 227.36 L331.22 227.27 L331.62 227.19 L332.03 227.12 L332.43 227.05 L332.84 227.00 L333.24 226.96 L333.65 226.94 L334.05 226.93 L334.46 226.95 L334.86 226.97 L335.26 227.02 L335.67 227.07 L336.07 227.14 L336.48 227.22 L336.88 227.31 L337.29 227.41 L337.69 227.53 L338.10 227.67 L338.50 227.84 L338.91 228.03 L339.31 228.25 L339.72 228.48 L340.12 228.74 L340.53 229.00 L340.93 229.27 L341.34 229.55 L341.74 229.84 L342.14 230.14 L342.55 230.45 L342.95 230.77 L343.36 231.11 L343.76 231.45 L344.17 231.81 L344.57 232.19 L344.98 232.57 L345.38 232.96 L345.79 233.37 L346.19 233.79 L346.60 234.23 L347.00 234.69 L347.41 235.15 L347.81 235.63 L348.22 236.12 L348.62 236.61 L349.03 237.11 L349.43 237.60 L349.83 238.10 L350.24 238.61 L350.64 239.12 L351.05 239.63 L351.45 240.14 L351.86 240.66 L352.26 241.17 L352.67 241.68 L353.07 242.19 L353.48 242.69 L353.88 243.18 L354.29 243.67 L354.69 244.16 L355.10 244.64 L355.50 245.12 L355.91 245.59 L356.31 246.04 L356.72 246.49 L357.12 246.91 L357.52 247.32 L357.93 247.72 L358.33 248.11 L358.74 248.48 L359.14 248.84 L359.55 249.20 L359.95 249.53 L360.36 249.84 L360.76 250.13 L361.17 250.38 L361.57 250.61 L361.98 250.80 L362.38 250.96 L362.79 251.10 L363.19 251.21 L363.60 251.31 L364.00 251.40" stroke="#1400c8" stroke-width="1.55"/>
</g>
<text x="67.3" y="256.8" font-size="16" text-anchor="end" >0</text>
<text x="67.3" y="202.65" font-size="16" text-anchor="end" >40</text>
<text x="67.3" y="148.5" font-size="16" text-anchor="end" >80</text>
<text x="67.3" y="94.35" font-size="16" text-anchor="end" >120</text>
<text x="67.3" y="40.2" font-size="16" text-anchor="end" >160</text>
<text x="72.6" y="269.3" font-size="16" text-anchor="middle" >0</text>
<text x="145.45" y="269.3" font-size="16" text-anchor="middle" >180</text>
<text x="218.3" y="269.3" font-size="16" text-anchor="middle" >360</text>
<text x="291.15" y="269.3" font-size="16" text-anchor="middle" >540</text>
<text x="364.0" y="269.3" font-size="16" text-anchor="middle" >720</text>
<text x="2.6" y="16.2" font-size="19.5" text-anchor="start" >(a)</text>
<path d="M95.5 45.9 H132.8" stroke="#000000" stroke-width="1.7" stroke-dasharray="6 2 2 2" fill="none"/>
<path d="M95.5 65.9 H132.8" stroke="#e01818" stroke-width="1.4" stroke-dasharray="1.35 1.35" fill="none"/>
<path d="M95.5 85.6 H132.8" stroke="#1400c8" stroke-width="1.55" fill="none"/>
<text x="136.6" y="51.9" font-size="16" text-anchor="start" >Case 1</text>
<text x="136.6" y="71.9" font-size="16" text-anchor="start" >Case 2</text>
<text x="136.6" y="91.6" font-size="16" text-anchor="start" >Case 3</text>
<g transform="translate(30.0,140.4) rotate(-90)"><text x="0" y="0" font-size="16" text-anchor="middle" letter-spacing="0.05">Power loss, <tspan font-style="italic">P</tspan><tspan font-style="italic" font-size="9.5" dy="1.5">loss</tspan><tspan dy="-1.5" dx="-0.6" font-size="16.9"> (W)</tspan></text></g>
<text x="141.4" y="291.8" font-size="16.35" text-anchor="start" >Crank angle,</text>
<text transform="translate(229.79999999999998,291.8) scale(1.2,1)" font-size="16" font-style="italic">θ</text>
<text x="241.1" y="291.8" font-size="16.15" text-anchor="start" >(degree)</text>
<g stroke="#484848" stroke-width="1.2" fill="none">
<path d="M481.05 34.199999999999996 V251.45 H773.6"/>
<path d="M481.05 251.45 h4.5"/>
<path d="M481.05 224.37 h2.5"/>
<path d="M481.05 197.29 h4.5"/>
<path d="M481.05 170.21 h2.5"/>
<path d="M481.05 143.12 h4.5"/>
<path d="M481.05 116.04 h2.5"/>
<path d="M481.05 88.96 h4.5"/>
<path d="M481.05 61.88 h2.5"/>
<path d="M481.05 34.80 h4.5"/>
<path d="M481.05 251.45 v-4.5"/>
<path d="M517.54 251.45 v-2.5"/>
<path d="M554.04 251.45 v-4.5"/>
<path d="M590.53 251.45 v-2.5"/>
<path d="M627.02 251.45 v-4.5"/>
<path d="M663.52 251.45 v-2.5"/>
<path d="M700.01 251.45 v-4.5"/>
<path d="M736.51 251.45 v-2.5"/>
<path d="M773.00 251.45 v-4.5"/>
</g>
<clipPath id="clb"><rect x="479.05" y="29.80" width="295.95" height="223.05"/></clipPath>
<g clip-path="url(#clb)" fill="none" stroke-linejoin="round">
<path d="M481.05 251.45 L481.46 249.87 L481.86 248.23 L482.27 246.51 L482.67 244.68 L483.08 242.72 L483.48 240.63 L483.89 238.41 L484.30 236.07 L484.70 233.62 L485.11 231.06 L485.51 228.41 L485.92 225.70 L486.33 222.92 L486.73 220.10 L487.14 217.23 L487.54 214.31 L487.95 211.34 L488.35 208.31 L488.76 205.25 L489.17 202.15 L489.57 199.02 L489.98 195.87 L490.38 192.68 L490.79 189.43 L491.20 186.10 L491.60 182.68 L492.01 179.21 L492.41 175.72 L492.82 172.24 L493.22 168.79 L493.63 165.35 L494.04 161.91 L494.44 158.47 L494.85 155.04 L495.25 151.65 L495.66 148.33 L496.07 145.15 L496.47 142.15 L496.88 139.38 L497.28 136.86 L497.69 134.60 L498.09 132.54 L498.50 130.64 L498.91 128.83 L499.31 127.06 L499.72 125.28 L500.12 123.48 L500.53 121.67 L500.94 119.87 L501.34 118.14 L501.75 116.51 L502.15 114.99 L502.56 113.60 L502.96 112.31 L503.37 111.12 L503.78 109.99 L504.18 108.93 L504.59 107.93 L504.99 107.00 L505.40 106.13 L505.81 105.34 L506.21 104.63 L506.62 104.00 L507.02 103.46 L507.43 103.05 L507.83 102.77 L508.24 102.63 L508.65 102.61 L509.05 102.68 L509.46 102.84 L509.86 103.07 L510.27 103.38 L510.68 103.77 L511.08 104.25 L511.49 104.81 L511.89 105.48 L512.30 106.25 L512.70 107.14 L513.11 108.13 L513.52 109.22 L513.92 110.42 L514.33 111.70 L514.73 113.07 L515.14 114.51 L515.55 116.00 L515.95 117.52 L516.36 119.07 L516.76 120.66 L517.17 122.29 L517.57 123.96 L517.98 125.67 L518.39 127.43 L518.79 129.22 L519.20 131.03 L519.60 132.85 L520.01 134.66 L520.42 136.48 L520.82 138.31 L521.23 140.16 L521.63 142.07 L522.04 144.02 L522.44 146.03 L522.85 148.08 L523.26 150.15 L523.66 152.20 L524.07 154.22 L524.47 156.19 L524.88 158.11 L525.28 159.98 L525.69 161.84 L526.10 163.69 L526.50 165.54 L526.91 167.40 L527.31 169.27 L527.72 171.15 L528.13 173.02 L528.53 174.89 L528.94 176.76 L529.34 178.63 L529.75 180.51 L530.15 182.44 L530.56 184.43 L530.97 186.51 L531.37 188.67 L531.78 190.91 L532.18 193.22 L532.59 195.56 L533.00 197.91 L533.40 200.23 L533.81 202.47 L534.21 204.58 L534.62 206.55 L535.02 208.39 L535.43 210.12 L535.84 211.79 L536.24 213.41 L536.65 215.02 L537.05 216.62 L537.46 218.21 L537.87 219.78 L538.27 221.31 L538.68 222.82 L539.08 224.28 L539.49 225.71 L539.89 227.10 L540.30 228.46 L540.71 229.78 L541.11 231.07 L541.52 232.32 L541.92 233.53 L542.33 234.72 L542.74 235.86 L543.14 236.98 L543.55 238.06 L543.95 239.10 L544.36 240.11 L544.76 241.08 L545.17 242.02 L545.58 242.92 L545.98 243.78 L546.39 244.59 L546.79 245.37 L547.20 246.09 L547.61 246.77 L548.01 247.40 L548.42 247.98 L548.82 248.50 L549.23 248.98 L549.63 249.41 L550.04 249.78 L550.45 250.11 L550.85 250.40 L551.26 250.64 L551.66 250.83 L552.07 251.00 L552.48 251.13 L552.88 251.24 L553.29 251.32 L553.69 251.37 L554.10 251.39 L554.50 251.38 L554.91 251.35 L555.32 251.29 L555.72 251.21 L556.13 251.10 L556.53 250.97 L556.94 250.81 L557.35 250.59 L557.75 250.30 L558.16 249.93 L558.56 249.47 L558.97 248.94 L559.37 248.34 L559.78 247.68 L560.19 246.97 L560.59 246.19 L561.00 245.36 L561.40 244.47 L561.81 243.53 L562.21 242.57 L562.62 241.59 L563.03 240.61 L563.43 239.60 L563.84 238.57 L564.24 237.50 L564.65 236.38 L565.06 235.22 L565.46 234.01 L565.87 232.77 L566.27 231.50 L566.68 230.23 L567.08 228.95 L567.49 227.66 L567.90 226.35 L568.30 225.00 L568.71 223.60 L569.11 222.14 L569.52 220.60 L569.93 219.01 L570.33 217.38 L570.74 215.71 L571.14 214.04 L571.55 212.35 L571.95 210.65 L572.36 208.94 L572.77 207.23 L573.17 205.50 L573.58 203.75 L573.98 201.98 L574.39 200.16 L574.80 198.25 L575.20 196.24 L575.61 194.10 L576.01 191.86 L576.42 189.53 L576.82 187.18 L577.23 184.82 L577.64 182.50 L578.04 180.21 L578.45 177.94 L578.85 175.68 L579.26 173.42 L579.67 171.17 L580.07 168.90 L580.48 166.63 L580.88 164.34 L581.29 162.06 L581.69 159.78 L582.10 157.51 L582.51 155.27 L582.91 153.04 L583.32 150.83 L583.72 148.63 L584.13 146.45 L584.54 144.30 L584.94 142.20 L585.35 140.15 L585.75 138.15 L586.16 136.16 L586.56 134.17 L586.97 132.17 L587.38 130.16 L587.78 128.16 L588.19 126.18 L588.59 124.25 L589.00 122.35 L589.41 120.50 L589.81 118.69 L590.22 116.92 L590.62 115.20 L591.03 113.52 L591.43 111.90 L591.84 110.35 L592.25 108.88 L592.65 107.49 L593.06 106.18 L593.46 104.95 L593.87 103.78 L594.28 102.67 L594.68 101.63 L595.09 100.64 L595.49 99.72 L595.90 98.87 L596.30 98.10 L596.71 97.41 L597.12 96.80 L597.52 96.29 L597.93 95.86 L598.33 95.54 L598.74 95.31 L599.15 95.17 L599.55 95.11 L599.96 95.15 L600.36 95.29 L600.77 95.55 L601.17 95.93 L601.58 96.46 L601.99 97.13 L602.39 97.95 L602.80 98.90 L603.20 99.96 L603.61 101.12 L604.01 102.39 L604.42 103.76 L604.83 105.24 L605.23 106.82 L605.64 108.48 L606.04 110.21 L606.45 112.02 L606.86 113.91 L607.26 115.93 L607.67 118.10 L608.07 120.44 L608.48 123.00 L608.88 125.79 L609.29 128.81 L609.70 132.04 L610.10 135.44 L610.51 138.96 L610.91 142.52 L611.32 146.10 L611.73 149.65 L612.13 153.16 L612.54 156.63 L612.94 160.08 L613.35 163.51 L613.75 166.93 L614.16 170.34 L614.57 173.72 L614.97 177.06 L615.38 180.34 L615.78 183.55 L616.19 186.67 L616.60 189.73 L617.00 192.71 L617.41 195.61 L617.81 198.44 L618.22 201.23 L618.62 204.03 L619.03 206.90 L619.44 209.87 L619.84 212.93 L620.25 216.06 L620.65 219.21 L621.06 222.32 L621.47 225.38 L621.87 228.36 L622.28 231.25 L622.68 234.03 L623.09 236.68 L623.49 239.18 L623.90 241.49 L624.31 243.60 L624.71 245.46 L625.12 247.08 L625.52 248.45 L625.93 249.59 L626.34 250.57 L626.74 251.45 L626.74 251.45 L627.15 249.57 L627.55 247.62 L627.96 245.55 L628.36 243.34 L628.77 240.98 L629.17 238.49 L629.58 235.89 L629.98 233.20 L630.39 230.46 L630.79 227.68 L631.20 224.89 L631.60 222.09 L632.01 219.30 L632.41 216.52 L632.82 213.74 L633.22 210.96 L633.63 208.15 L634.03 205.28 L634.44 202.33 L634.84 199.26 L635.25 196.09 L635.65 192.84 L636.06 189.56 L636.46 186.32 L636.87 183.15 L637.28 180.04 L637.68 176.96 L638.09 173.88 L638.49 170.79 L638.90 167.69 L639.30 164.62 L639.71 161.57 L640.11 158.54 L640.52 155.51 L640.92 152.45 L641.33 149.34 L641.73 146.17 L642.14 142.98 L642.54 139.81 L642.95 136.75 L643.35 133.87 L643.76 131.19 L644.16 128.68 L644.57 126.33 L644.97 124.11 L645.38 121.98 L645.78 119.94 L646.19 117.97 L646.59 116.09 L647.00 114.29 L647.40 112.60 L647.81 111.02 L648.21 109.56 L648.62 108.21 L649.02 106.98 L649.43 105.88 L649.83 104.89 L650.24 104.02 L650.64 103.25 L651.05 102.59 L651.46 102.01 L651.86 101.50 L652.27 101.06 L652.67 100.68 L653.08 100.36 L653.48 100.10 L653.89 99.91 L654.29 99.79 L654.70 99.73 L655.10 99.74 L655.51 99.81 L655.91 99.99 L656.32 100.28 L656.72 100.71 L657.13 101.29 L657.53 101.99 L657.94 102.83 L658.34 103.78 L658.75 104.84 L659.15 105.99 L659.56 107.25 L659.96 108.59 L660.37 110.01 L660.77 111.52 L661.18 113.09 L661.58 114.72 L661.99 116.38 L662.39 118.07 L662.80 119.79 L663.20 121.55 L663.61 123.36 L664.01 125.23 L664.42 127.14 L664.83 129.07 L665.23 131.01 L665.64 132.92 L666.04 134.78 L666.45 136.55 L666.85 138.24 L667.26 139.86 L667.66 141.46 L668.07 143.08 L668.47 144.77 L668.88 146.54 L669.28 148.39 L669.69 150.33 L670.09 152.30 L670.50 154.30 L670.90 156.30 L671.31 158.29 L671.71 160.27 L672.12 162.25 L672.52 164.22 L672.93 166.19 L673.33 168.16 L673.74 170.13 L674.14 172.09 L674.55 174.06 L674.95 176.01 L675.36 177.95 L675.76 179.87 L676.17 181.81 L676.57 183.79 L676.98 185.88 L677.38 188.13 L677.79 190.55 L678.20 193.07 L678.60 195.60 L679.01 198.01 L679.41 200.25 L679.82 202.31 L680.22 204.24 L680.63 206.05 L681.03 207.80 L681.44 209.48 L681.84 211.12 L682.25 212.74 L682.65 214.34 L683.06 215.92 L683.46 217.48 L683.87 219.01 L684.27 220.51 L684.68 221.97 L685.08 223.40 L685.49 224.79 L685.89 226.16 L686.30 227.49 L686.70 228.79 L687.11 230.06 L687.51 231.31 L687.92 232.54 L688.32 233.74 L688.73 234.93 L689.13 236.11 L689.54 237.27 L689.94 238.41 L690.35 239.51 L690.75 240.56 L691.16 241.56 L691.57 242.49 L691.97 243.36 L692.38 244.18 L692.78 244.94 L693.19 245.67 L693.59 246.35 L694.00 247.00 L694.40 247.60 L694.81 248.16 L695.21 248.66 L695.62 249.12 L696.02 249.53 L696.43 249.89 L696.83 250.21 L697.24 250.47 L697.64 250.70 L698.05 250.89 L698.45 251.05 L698.86 251.19 L699.26 251.28 L699.67 251.35 L700.07 251.38 L700.48 251.37 L700.88 251.34 L701.29 251.28 L701.69 251.20 L702.10 251.09 L702.50 250.94 L702.91 250.76 L703.31 250.50 L703.72 250.17 L704.12 249.74 L704.53 249.22 L704.93 248.63 L705.34 247.96 L705.75 247.24 L706.15 246.46 L706.56 245.61 L706.96 244.72 L707.37 243.79 L707.77 242.84 L708.18 241.86 L708.58 240.88 L708.99 239.87 L709.39 238.84 L709.80 237.78 L710.20 236.69 L710.61 235.56 L711.01 234.41 L711.42 233.22 L711.82 232.01 L712.23 230.78 L712.63 229.53 L713.04 228.25 L713.44 226.96 L713.85 225.64 L714.25 224.29 L714.66 222.92 L715.06 221.53 L715.47 220.10 L715.87 218.65 L716.28 217.18 L716.68 215.68 L717.09 214.16 L717.49 212.62 L717.90 211.06 L718.30 209.49 L718.71 207.91 L719.12 206.33 L719.52 204.75 L719.93 203.15 L720.33 201.51 L720.74 199.76 L721.14 197.85 L721.55 195.74 L721.95 193.41 L722.36 190.90 L722.76 188.28 L723.17 185.66 L723.57 183.08 L723.98 180.58 L724.38 178.13 L724.79 175.71 L725.19 173.30 L725.60 170.89 L726.00 168.48 L726.41 166.06 L726.81 163.65 L727.22 161.23 L727.62 158.81 L728.03 156.39 L728.43 153.98 L728.84 151.60 L729.24 149.29 L729.65 147.08 L730.05 145.00 L730.46 143.05 L730.86 141.19 L731.27 139.39 L731.67 137.58 L732.08 135.74 L732.49 133.84 L732.89 131.90 L733.30 129.94 L733.70 127.99 L734.11 126.06 L734.51 124.18 L734.92 122.34 L735.32 120.54 L735.73 118.78 L736.13 117.07 L736.54 115.40 L736.94 113.78 L737.35 112.22 L737.75 110.73 L738.16 109.31 L738.56 107.97 L738.97 106.70 L739.37 105.51 L739.78 104.39 L740.18 103.36 L740.59 102.40 L740.99 101.52 L741.40 100.73 L741.80 100.04 L742.21 99.45 L742.61 98.94 L743.02 98.53 L743.42 98.18 L743.83 97.90 L744.23 97.68 L744.64 97.52 L745.04 97.41 L745.45 97.35 L745.86 97.35 L746.26 97.40 L746.67 97.51 L747.07 97.69 L747.48 97.96 L747.88 98.34 L748.29 98.86 L748.69 99.52 L749.10 100.33 L749.50 101.28 L749.91 102.37 L750.31 103.59 L750.72 104.94 L751.12 106.40 L751.53 107.97 L751.93 109.65 L752.34 111.42 L752.74 113.30 L753.15 115.27 L753.55 117.34 L753.96 119.53 L754.36 121.80 L754.77 124.15 L755.17 126.56 L755.58 129.03 L755.98 131.60 L756.39 134.33 L756.79 137.29 L757.20 140.48 L757.60 143.85 L758.01 147.30 L758.41 150.76 L758.82 154.17 L759.22 157.54 L759.63 160.88 L760.04 164.21 L760.44 167.55 L760.85 170.90 L761.25 174.24 L761.66 177.56 L762.06 180.82 L762.47 183.99 L762.87 187.02 L763.28 189.92 L763.68 192.68 L764.09 195.33 L764.49 197.91 L764.90 200.47 L765.30 203.07 L765.71 205.75 L766.11 208.53 L766.52 211.41 L766.92 214.35 L767.33 217.33 L767.73 220.32 L768.14 223.28 L768.54 226.18 L768.95 229.02 L769.35 231.75 L769.76 234.38 L770.16 236.89 L770.57 239.27 L770.97 241.53 L771.38 243.68 L771.78 245.73 L772.19 247.69 L772.59 249.59 L773.00 251.45" stroke="#000000" stroke-width="1.7" stroke-dasharray="6 2 2 2"/>
<path d="M481.05 251.45 L481.46 249.87 L481.86 248.23 L482.27 246.51 L482.67 244.68 L483.08 242.72 L483.48 240.63 L483.89 238.41 L484.30 236.07 L484.70 233.62 L485.11 231.06 L485.51 228.41 L485.92 225.70 L486.33 222.92 L486.73 220.10 L487.14 217.23 L487.54 214.31 L487.95 211.34 L488.35 208.31 L488.76 205.25 L489.17 202.15 L489.57 199.02 L489.98 195.87 L490.38 192.68 L490.79 189.43 L491.20 186.10 L491.60 182.68 L492.01 179.21 L492.41 175.72 L492.82 172.24 L493.22 168.79 L493.63 165.35 L494.04 161.91 L494.44 158.47 L494.85 155.03 L495.25 151.63 L495.66 148.31 L496.07 145.13 L496.47 142.16 L496.88 139.47 L497.28 137.10 L497.69 135.05 L498.09 133.25 L498.50 131.64 L498.91 130.12 L499.31 128.61 L499.72 127.08 L500.12 125.48 L500.53 123.86 L500.94 122.27 L501.34 120.81 L501.75 119.55 L502.15 118.53 L502.56 117.76 L502.96 117.24 L503.37 116.95 L503.78 116.87 L504.18 116.96 L504.59 117.20 L504.99 117.54 L505.40 117.97 L505.81 118.49 L506.21 119.09 L506.62 119.78 L507.02 120.56 L507.43 121.44 L507.83 122.42 L508.24 123.49 L508.65 124.65 L509.05 125.88 L509.46 127.17 L509.86 128.50 L510.27 129.87 L510.68 131.26 L511.08 132.66 L511.49 134.07 L511.89 135.48 L512.30 136.91 L512.70 138.37 L513.11 139.93 L513.52 141.61 L513.92 143.45 L514.33 145.43 L514.73 147.52 L515.14 149.69 L515.55 151.89 L515.95 154.09 L516.36 156.27 L516.76 158.40 L517.17 160.49 L517.57 162.52 L517.98 164.52 L518.39 166.48 L518.79 168.41 L519.20 170.31 L519.60 172.18 L520.01 174.02 L520.42 175.82 L520.82 177.57 L521.23 179.29 L521.63 180.96 L522.04 182.57 L522.44 184.14 L522.85 185.65 L523.26 187.10 L523.66 188.50 L524.07 189.86 L524.47 191.19 L524.88 192.48 L525.28 193.75 L525.69 195.00 L526.10 196.24 L526.50 197.46 L526.91 198.68 L527.31 199.90 L527.72 201.13 L528.13 202.35 L528.53 203.59 L528.94 204.84 L529.34 206.10 L529.75 207.37 L530.15 208.63 L530.56 209.88 L530.97 211.12 L531.37 212.34 L531.78 213.55 L532.18 214.76 L532.59 215.97 L533.00 217.18 L533.40 218.40 L533.81 219.62 L534.21 220.85 L534.62 222.08 L535.02 223.31 L535.43 224.54 L535.84 225.76 L536.24 226.98 L536.65 228.19 L537.05 229.39 L537.46 230.57 L537.87 231.73 L538.27 232.86 L538.68 233.96 L539.08 235.02 L539.49 236.03 L539.89 237.00 L540.30 237.93 L540.71 238.83 L541.11 239.70 L541.52 240.55 L541.92 241.38 L542.33 242.18 L542.74 242.94 L543.14 243.66 L543.55 244.34 L543.95 244.99 L544.36 245.60 L544.76 246.17 L545.17 246.71 L545.58 247.22 L545.98 247.71 L546.39 248.17 L546.79 248.61 L547.20 249.01 L547.61 249.37 L548.01 249.69 L548.42 249.97 L548.82 250.22 L549.23 250.43 L549.63 250.62 L550.04 250.78 L550.45 250.91 L550.85 251.02 L551.26 251.11 L551.66 251.19 L552.07 251.26 L552.48 251.31 L552.88 251.36 L553.29 251.39 L553.69 251.41 L554.10 251.41 L554.50 251.40 L554.91 251.37 L555.32 251.32 L555.72 251.26 L556.13 251.17 L556.53 251.07 L556.94 250.93 L557.35 250.74 L557.75 250.49 L558.16 250.16 L558.56 249.75 L558.97 249.28 L559.37 248.74 L559.78 248.14 L560.19 247.50 L560.59 246.80 L561.00 246.04 L561.40 245.23 L561.81 244.35 L562.21 243.44 L562.62 242.50 L563.03 241.56 L563.43 240.61 L563.84 239.67 L564.24 238.73 L564.65 237.78 L565.06 236.82 L565.46 235.85 L565.87 234.87 L566.27 233.86 L566.68 232.83 L567.08 231.78 L567.49 230.72 L567.90 229.64 L568.30 228.55 L568.71 227.45 L569.11 226.36 L569.52 225.26 L569.93 224.17 L570.33 223.09 L570.74 222.00 L571.14 220.92 L571.55 219.83 L571.95 218.75 L572.36 217.66 L572.77 216.57 L573.17 215.48 L573.58 214.39 L573.98 213.30 L574.39 212.22 L574.80 211.15 L575.20 210.08 L575.61 209.03 L576.01 207.99 L576.42 206.96 L576.82 205.94 L577.23 204.93 L577.64 203.92 L578.04 202.93 L578.45 201.94 L578.85 200.96 L579.26 199.99 L579.67 199.02 L580.07 198.04 L580.48 197.03 L580.88 195.99 L581.29 194.90 L581.69 193.76 L582.10 192.57 L582.51 191.34 L582.91 190.08 L583.32 188.81 L583.72 187.56 L584.13 186.32 L584.54 185.11 L584.94 183.94 L585.35 182.79 L585.75 181.67 L586.16 180.58 L586.56 179.50 L586.97 178.44 L587.38 177.40 L587.78 176.38 L588.19 175.38 L588.59 174.39 L589.00 173.42 L589.41 172.47 L589.81 171.52 L590.22 170.59 L590.62 169.66 L591.03 168.74 L591.43 167.84 L591.84 166.94 L592.25 166.05 L592.65 165.16 L593.06 164.29 L593.46 163.42 L593.87 162.56 L594.28 161.70 L594.68 160.85 L595.09 160.01 L595.49 159.18 L595.90 158.39 L596.30 157.64 L596.71 156.93 L597.12 156.25 L597.52 155.62 L597.93 155.01 L598.33 154.45 L598.74 153.92 L599.15 153.43 L599.55 152.98 L599.96 152.56 L600.36 152.18 L600.77 151.83 L601.17 151.53 L601.58 151.29 L601.99 151.14 L602.39 151.08 L602.80 151.12 L603.20 151.27 L603.61 151.50 L604.01 151.81 L604.42 152.19 L604.83 152.64 L605.23 153.16 L605.64 153.76 L606.04 154.44 L606.45 155.20 L606.86 156.03 L607.26 156.92 L607.67 157.87 L608.07 158.89 L608.48 159.98 L608.88 161.14 L609.29 162.37 L609.70 163.68 L610.10 165.08 L610.51 166.55 L610.91 168.11 L611.32 169.76 L611.73 171.50 L612.13 173.32 L612.54 175.23 L612.94 177.23 L613.35 179.31 L613.75 181.47 L614.16 183.69 L614.57 185.96 L614.97 188.25 L615.38 190.55 L615.78 192.86 L616.19 195.17 L616.60 197.48 L617.00 199.79 L617.41 202.12 L617.81 204.47 L618.22 206.88 L618.62 209.34 L619.03 211.88 L619.44 214.47 L619.84 217.09 L620.25 219.73 L620.65 222.34 L621.06 224.93 L621.47 227.50 L621.87 230.04 L622.28 232.57 L622.68 235.07 L623.09 237.50 L623.49 239.82 L623.90 241.99 L624.31 243.97 L624.71 245.74 L625.12 247.27 L625.52 248.57 L625.93 249.66 L626.34 250.60 L626.74 251.45 L626.74 251.45 L627.15 249.57 L627.55 247.62 L627.96 245.55 L628.36 243.34 L628.77 240.98 L629.17 238.49 L629.58 235.89 L629.98 233.20 L630.39 230.46 L630.79 227.68 L631.20 224.89 L631.60 222.09 L632.01 219.30 L632.41 216.52 L632.82 213.74 L633.22 210.96 L633.63 208.15 L634.03 205.28 L634.44 202.33 L634.84 199.26 L635.25 196.09 L635.65 192.84 L636.06 189.56 L636.46 186.32 L636.87 183.15 L637.28 180.04 L637.68 176.96 L638.09 173.88 L638.49 170.79 L638.90 167.69 L639.30 164.62 L639.71 161.56 L640.11 158.53 L640.52 155.50 L640.92 152.46 L641.33 149.40 L641.73 146.33 L642.14 143.28 L642.54 140.29 L642.95 137.41 L643.35 134.68 L643.76 132.11 L644.16 129.72 L644.57 127.50 L644.97 125.44 L645.38 123.52 L645.78 121.75 L646.19 120.08 L646.59 118.50 L647.00 116.99 L647.40 115.56 L647.81 114.22 L648.21 113.02 L648.62 111.99 L649.02 111.14 L649.43 110.47 L649.83 109.99 L650.24 109.68 L650.64 109.55 L651.05 109.61 L651.46 109.83 L651.86 110.20 L652.27 110.70 L652.67 111.33 L653.08 112.09 L653.48 112.97 L653.89 113.96 L654.29 115.03 L654.70 116.15 L655.10 117.30 L655.51 118.48 L655.91 119.67 L656.32 120.88 L656.72 122.10 L657.13 123.33 L657.53 124.58 L657.94 125.85 L658.34 127.16 L658.75 128.52 L659.15 129.94 L659.56 131.43 L659.96 133.01 L660.37 134.69 L660.77 136.49 L661.18 138.40 L661.58 140.42 L661.99 142.50 L662.39 144.62 L662.80 146.75 L663.20 148.86 L663.61 150.96 L664.01 153.03 L664.42 155.07 L664.83 157.08 L665.23 159.04 L665.64 160.98 L666.04 162.89 L666.45 164.76 L666.85 166.62 L667.26 168.46 L667.66 170.26 L668.07 172.05 L668.47 173.81 L668.88 175.54 L669.28 177.24 L669.69 178.92 L670.09 180.57 L670.50 182.21 L670.90 183.83 L671.31 185.47 L671.71 187.15 L672.12 188.94 L672.52 190.88 L672.93 193.00 L673.33 195.25 L673.74 197.56 L674.14 199.82 L674.55 201.95 L674.95 203.90 L675.36 205.67 L675.76 207.29 L676.17 208.80 L676.57 210.26 L676.98 211.70 L677.38 213.13 L677.79 214.56 L678.20 215.98 L678.60 217.37 L679.01 218.75 L679.41 220.09 L679.82 221.42 L680.22 222.71 L680.63 223.99 L681.03 225.26 L681.44 226.51 L681.84 227.74 L682.25 228.95 L682.65 230.14 L683.06 231.30 L683.46 232.44 L683.87 233.55 L684.27 234.63 L684.68 235.68 L685.08 236.69 L685.49 237.66 L685.89 238.59 L686.30 239.50 L686.70 240.39 L687.11 241.26 L687.51 242.11 L687.92 242.94 L688.32 243.75 L688.73 244.51 L689.13 245.24 L689.54 245.93 L689.94 246.56 L690.35 247.15 L690.75 247.69 L691.16 248.18 L691.57 248.63 L691.97 249.04 L692.38 249.41 L692.78 249.74 L693.19 250.02 L693.59 250.26 L694.00 250.47 L694.40 250.64 L694.81 250.78 L695.21 250.91 L695.62 251.01 L696.02 251.10 L696.43 251.17 L696.83 251.23 L697.24 251.28 L697.64 251.32 L698.05 251.36 L698.45 251.38 L698.86 251.41 L699.26 251.42 L699.67 251.43 L700.07 251.42 L700.48 251.41 L700.88 251.37 L701.29 251.33 L701.69 251.26 L702.10 251.17 L702.50 251.06 L702.91 250.90 L703.31 250.68 L703.72 250.37 L704.12 249.97 L704.53 249.47 L704.93 248.89 L705.34 248.25 L705.75 247.56 L706.15 246.82 L706.56 246.04 L706.96 245.22 L707.37 244.36 L707.77 243.47 L708.18 242.55 L708.58 241.61 L708.99 240.64 L709.39 239.66 L709.80 238.65 L710.20 237.63 L710.61 236.60 L711.01 235.56 L711.42 234.52 L711.82 233.46 L712.23 232.41 L712.63 231.34 L713.04 230.27 L713.44 229.20 L713.85 228.13 L714.25 227.06 L714.66 225.98 L715.06 224.92 L715.47 223.85 L715.87 222.78 L716.28 221.71 L716.68 220.64 L717.09 219.57 L717.49 218.49 L717.90 217.41 L718.30 216.32 L718.71 215.23 L719.12 214.14 L719.52 213.05 L719.93 211.98 L720.33 210.91 L720.74 209.86 L721.14 208.81 L721.55 207.78 L721.95 206.77 L722.36 205.76 L722.76 204.76 L723.17 203.77 L723.57 202.79 L723.98 201.82 L724.38 200.86 L724.79 199.91 L725.19 198.96 L725.60 198.02 L726.00 197.07 L726.41 196.11 L726.81 195.14 L727.22 194.16 L727.62 193.17 L728.03 192.17 L728.43 191.17 L728.84 190.15 L729.24 189.13 L729.65 188.11 L730.05 187.07 L730.46 186.03 L730.86 184.98 L731.27 183.92 L731.67 182.85 L732.08 181.78 L732.49 180.70 L732.89 179.63 L733.30 178.59 L733.70 177.56 L734.11 176.56 L734.51 175.58 L734.92 174.63 L735.32 173.69 L735.73 172.77 L736.13 171.86 L736.54 170.95 L736.94 170.04 L737.35 169.14 L737.75 168.23 L738.16 167.33 L738.56 166.44 L738.97 165.56 L739.37 164.70 L739.78 163.86 L740.18 163.05 L740.59 162.25 L740.99 161.48 L741.40 160.73 L741.80 160.00 L742.21 159.29 L742.61 158.60 L743.02 157.93 L743.42 157.28 L743.83 156.65 L744.23 156.04 L744.64 155.45 L745.04 154.91 L745.45 154.42 L745.86 153.98 L746.26 153.59 L746.67 153.25 L747.07 152.95 L747.48 152.68 L747.88 152.45 L748.29 152.28 L748.69 152.16 L749.10 152.11 L749.50 152.15 L749.91 152.27 L750.31 152.47 L750.72 152.76 L751.12 153.13 L751.53 153.59 L751.93 154.13 L752.34 154.77 L752.74 155.51 L753.15 156.33 L753.55 157.23 L753.96 158.21 L754.36 159.27 L754.77 160.42 L755.17 161.64 L755.58 162.95 L755.98 164.33 L756.39 165.80 L756.79 167.34 L757.20 168.97 L757.60 170.67 L758.01 172.46 L758.41 174.33 L758.82 176.29 L759.22 178.35 L759.63 180.49 L760.04 182.71 L760.44 184.97 L760.85 187.20 L761.25 189.35 L761.66 191.39 L762.06 193.34 L762.47 195.25 L762.87 197.18 L763.28 199.18 L763.68 201.26 L764.09 203.42 L764.49 205.65 L764.90 207.92 L765.30 210.23 L765.71 212.57 L766.11 214.94 L766.52 217.34 L766.92 219.76 L767.33 222.21 L767.73 224.65 L768.14 227.08 L768.54 229.46 L768.95 231.75 L769.35 233.93 L769.76 236.02 L770.16 238.04 L770.57 240.03 L770.97 242.00 L771.38 243.96 L771.78 245.90 L772.19 247.78 L772.59 249.63 L773.00 251.45" stroke="#e01818" stroke-width="1.4" stroke-dasharray="1.35 1.35"/>
<path d="M481.05 251.45 L481.46 249.53 L481.86 247.53 L482.27 245.39 L482.67 243.08 L483.08 240.59 L483.48 237.95 L483.89 235.21 L484.30 232.40 L484.70 229.56 L485.11 226.68 L485.51 223.77 L485.92 220.82 L486.33 217.82 L486.73 214.80 L487.14 211.74 L487.54 208.67 L487.95 205.57 L488.35 202.45 L488.76 199.30 L489.17 196.11 L489.57 192.86 L489.98 189.55 L490.38 186.16 L490.79 182.71 L491.20 179.21 L491.60 175.72 L492.01 172.24 L492.41 168.79 L492.82 165.35 L493.22 161.92 L493.63 158.48 L494.04 155.06 L494.44 151.68 L494.85 148.38 L495.25 145.19 L495.66 142.12 L496.07 139.17 L496.47 136.35 L496.88 133.65 L497.28 131.08 L497.69 128.63 L498.09 126.33 L498.50 124.16 L498.91 122.13 L499.31 120.23 L499.72 118.43 L500.12 116.74 L500.53 115.14 L500.94 113.61 L501.34 112.15 L501.75 110.74 L502.15 109.36 L502.56 107.99 L502.96 106.65 L503.37 105.34 L503.78 104.06 L504.18 102.85 L504.59 101.70 L504.99 100.63 L505.40 99.65 L505.81 98.76 L506.21 97.96 L506.62 97.28 L507.02 96.69 L507.43 96.20 L507.83 95.79 L508.24 95.48 L508.65 95.24 L509.05 95.09 L509.46 95.04 L509.86 95.09 L510.27 95.26 L510.68 95.54 L511.08 95.94 L511.49 96.45 L511.89 97.08 L512.30 97.83 L512.70 98.70 L513.11 99.69 L513.52 100.79 L513.92 101.98 L514.33 103.26 L514.73 104.61 L515.14 106.03 L515.55 107.50 L515.95 109.02 L516.36 110.59 L516.76 112.19 L517.17 113.83 L517.57 115.51 L517.98 117.21 L518.39 118.94 L518.79 120.69 L519.20 122.47 L519.60 124.27 L520.01 126.08 L520.42 127.91 L520.82 129.75 L521.23 131.60 L521.63 133.46 L522.04 135.34 L522.44 137.24 L522.85 139.17 L523.26 141.14 L523.66 143.17 L524.07 145.25 L524.47 147.40 L524.88 149.58 L525.28 151.77 L525.69 153.95 L526.10 156.10 L526.50 158.20 L526.91 160.26 L527.31 162.30 L527.72 164.33 L528.13 166.35 L528.53 168.38 L528.94 170.40 L529.34 172.43 L529.75 174.45 L530.15 176.47 L530.56 178.49 L530.97 180.53 L531.37 182.62 L531.78 184.78 L532.18 187.04 L532.59 189.40 L533.00 191.86 L533.40 194.39 L533.81 196.98 L534.21 199.56 L534.62 202.07 L535.02 204.44 L535.43 206.65 L535.84 208.69 L536.24 210.60 L536.65 212.42 L537.05 214.21 L537.46 215.97 L537.87 217.72 L538.27 219.44 L538.68 221.14 L539.08 222.79 L539.49 224.40 L539.89 225.97 L540.30 227.49 L540.71 228.97 L541.11 230.41 L541.52 231.81 L541.92 233.16 L542.33 234.46 L542.74 235.71 L543.14 236.90 L543.55 238.03 L543.95 239.10 L544.36 240.12 L544.76 241.09 L545.17 242.03 L545.58 242.92 L545.98 243.78 L546.39 244.60 L546.79 245.37 L547.20 246.09 L547.61 246.77 L548.01 247.40 L548.42 247.98 L548.82 248.50 L549.23 248.98 L549.63 249.41 L550.04 249.78 L550.45 250.11 L550.85 250.40 L551.26 250.64 L551.66 250.83 L552.07 251.00 L552.48 251.13 L552.88 251.24 L553.29 251.32 L553.69 251.37 L554.10 251.39 L554.50 251.38 L554.91 251.35 L555.32 251.29 L555.72 251.21 L556.13 251.10 L556.53 250.97 L556.94 250.81 L557.35 250.59 L557.75 250.30 L558.16 249.93 L558.56 249.47 L558.97 248.94 L559.37 248.34 L559.78 247.68 L560.19 246.97 L560.59 246.20 L561.00 245.37 L561.40 244.47 L561.81 243.52 L562.21 242.53 L562.62 241.50 L563.03 240.43 L563.43 239.32 L563.84 238.18 L564.24 236.99 L564.65 235.76 L565.06 234.49 L565.46 233.18 L565.87 231.85 L566.27 230.49 L566.68 229.12 L567.08 227.74 L567.49 226.32 L567.90 224.86 L568.30 223.35 L568.71 221.77 L569.11 220.12 L569.52 218.42 L569.93 216.67 L570.33 214.89 L570.74 213.09 L571.14 211.27 L571.55 209.43 L571.95 207.58 L572.36 205.73 L572.77 203.86 L573.17 201.96 L573.58 200.01 L573.98 197.96 L574.39 195.79 L574.80 193.48 L575.20 191.05 L575.61 188.55 L576.01 186.02 L576.42 183.50 L576.82 181.01 L577.23 178.55 L577.64 176.10 L578.04 173.67 L578.45 171.23 L578.85 168.78 L579.26 166.33 L579.67 163.86 L580.07 161.40 L580.48 158.94 L580.88 156.50 L581.29 154.09 L581.69 151.70 L582.10 149.32 L582.51 146.96 L582.91 144.62 L583.32 142.29 L583.72 139.99 L584.13 137.69 L584.54 135.39 L584.94 133.10 L585.35 130.82 L585.75 128.56 L586.16 126.35 L586.56 124.16 L586.97 121.99 L587.38 119.82 L587.78 117.65 L588.19 115.50 L588.59 113.37 L589.00 111.28 L589.41 109.23 L589.81 107.22 L590.22 105.23 L590.62 103.27 L591.03 101.35 L591.43 99.48 L591.84 97.68 L592.25 95.97 L592.65 94.35 L593.06 92.83 L593.46 91.39 L593.87 90.06 L594.28 88.81 L594.68 87.65 L595.09 86.58 L595.49 85.60 L595.90 84.73 L596.30 83.97 L596.71 83.32 L597.12 82.79 L597.52 82.39 L597.93 82.11 L598.33 81.94 L598.74 81.89 L599.15 81.95 L599.55 82.13 L599.96 82.41 L600.36 82.82 L600.77 83.34 L601.17 83.97 L601.58 84.72 L601.99 85.58 L602.39 86.54 L602.80 87.61 L603.20 88.79 L603.61 90.09 L604.01 91.51 L604.42 93.06 L604.83 94.73 L605.23 96.53 L605.64 98.45 L606.04 100.51 L606.45 102.68 L606.86 104.98 L607.26 107.39 L607.67 109.88 L608.07 112.44 L608.48 115.08 L608.88 117.84 L609.29 120.75 L609.70 123.87 L610.10 127.27 L610.51 130.95 L610.91 134.91 L611.32 139.07 L611.73 143.31 L612.13 147.49 L612.54 151.52 L612.94 155.41 L613.35 159.20 L613.75 162.95 L614.16 166.69 L614.57 170.42 L614.97 174.13 L615.38 177.79 L615.78 181.37 L616.19 184.85 L616.60 188.23 L617.00 191.50 L617.41 194.67 L617.81 197.75 L618.22 200.75 L618.62 203.74 L619.03 206.74 L619.44 209.81 L619.84 212.92 L620.25 216.07 L620.65 219.22 L621.06 222.33 L621.47 225.38 L621.87 228.36 L622.28 231.25 L622.68 234.03 L623.09 236.68 L623.49 239.18 L623.90 241.49 L624.31 243.60 L624.71 245.46 L625.12 247.08 L625.52 248.45 L625.93 249.59 L626.34 250.57 L626.74 251.45 L626.74 251.45 L627.15 249.43 L627.55 247.35 L627.96 245.13 L628.36 242.77 L628.77 240.24 L629.17 237.59 L629.58 234.82 L629.98 231.97 L630.39 229.07 L630.79 226.13 L631.20 223.19 L631.60 220.26 L632.01 217.33 L632.41 214.40 L632.82 211.47 L633.22 208.51 L633.63 205.48 L634.03 202.36 L634.44 199.10 L634.84 195.73 L635.25 192.28 L635.65 188.83 L636.06 185.44 L636.46 182.13 L636.87 178.89 L637.28 175.67 L637.68 172.43 L638.09 169.18 L638.49 165.94 L638.90 162.74 L639.30 159.57 L639.71 156.40 L640.11 153.19 L640.52 149.91 L640.92 146.54 L641.33 143.12 L641.73 139.72 L642.14 136.45 L642.54 133.39 L642.95 130.57 L643.35 127.95 L643.76 125.49 L644.16 123.16 L644.57 120.91 L644.97 118.73 L645.38 116.62 L645.78 114.58 L646.19 112.62 L646.59 110.76 L647.00 109.00 L647.40 107.34 L647.81 105.77 L648.21 104.27 L648.62 102.85 L649.02 101.51 L649.43 100.26 L649.83 99.12 L650.24 98.08 L650.64 97.15 L651.05 96.31 L651.46 95.55 L651.86 94.89 L652.27 94.30 L652.67 93.79 L653.08 93.35 L653.48 92.99 L653.89 92.70 L654.29 92.48 L654.70 92.34 L655.10 92.29 L655.51 92.32 L655.91 92.44 L656.32 92.66 L656.72 92.96 L657.13 93.35 L657.53 93.83 L657.94 94.41 L658.34 95.08 L658.75 95.85 L659.15 96.73 L659.56 97.72 L659.96 98.82 L660.37 100.03 L660.77 101.34 L661.18 102.77 L661.58 104.28 L661.99 105.89 L662.39 107.57 L662.80 109.32 L663.20 111.13 L663.61 112.97 L664.01 114.86 L664.42 116.78 L664.83 118.73 L665.23 120.71 L665.64 122.72 L666.04 124.74 L666.45 126.75 L666.85 128.72 L667.26 130.58 L667.66 132.33 L668.07 133.96 L668.47 135.54 L668.88 137.12 L669.28 138.76 L669.69 140.49 L670.09 142.32 L670.50 144.25 L670.90 146.26 L671.31 148.36 L671.71 150.53 L672.12 152.75 L672.52 154.98 L672.93 157.21 L673.33 159.43 L673.74 161.64 L674.14 163.84 L674.55 166.05 L674.95 168.25 L675.36 170.44 L675.76 172.64 L676.17 174.82 L676.57 177.00 L676.98 179.16 L677.38 181.33 L677.79 183.57 L678.20 185.94 L678.60 188.51 L679.01 191.27 L679.41 194.12 L679.82 196.91 L680.22 199.54 L680.63 201.96 L681.03 204.17 L681.44 206.22 L681.84 208.15 L682.25 210.00 L682.65 211.80 L683.06 213.57 L683.46 215.31 L683.87 217.02 L684.27 218.71 L684.68 220.36 L685.08 221.97 L685.49 223.53 L685.89 225.06 L686.30 226.55 L686.70 228.00 L687.11 229.43 L687.51 230.82 L687.92 232.18 L688.32 233.50 L688.73 234.79 L689.13 236.04 L689.54 237.25 L689.94 238.41 L690.35 239.52 L690.75 240.58 L691.16 241.57 L691.57 242.50 L691.97 243.37 L692.38 244.18 L692.78 244.94 L693.19 245.67 L693.59 246.35 L694.00 247.00 L694.40 247.60 L694.81 248.16 L695.21 248.66 L695.62 249.12 L696.02 249.53 L696.43 249.89 L696.83 250.21 L697.24 250.47 L697.64 250.70 L698.05 250.89 L698.45 251.05 L698.86 251.19 L699.26 251.28 L699.67 251.35 L700.07 251.38 L700.48 251.37 L700.88 251.34 L701.29 251.28 L701.69 251.20 L702.10 251.09 L702.50 250.94 L702.91 250.76 L703.31 250.50 L703.72 250.17 L704.12 249.74 L704.53 249.22 L704.93 248.63 L705.34 247.97 L705.75 247.25 L706.15 246.47 L706.56 245.62 L706.96 244.73 L707.37 243.78 L707.77 242.78 L708.18 241.75 L708.58 240.68 L708.99 239.57 L709.39 238.43 L709.80 237.24 L710.20 236.02 L710.61 234.76 L711.01 233.46 L711.42 232.14 L711.82 230.79 L712.23 229.41 L712.63 228.01 L713.04 226.58 L713.44 225.12 L713.85 223.63 L714.25 222.10 L714.66 220.55 L715.06 218.96 L715.47 217.35 L715.87 215.70 L716.28 214.03 L716.68 212.33 L717.09 210.61 L717.49 208.89 L717.90 207.18 L718.30 205.47 L718.71 203.77 L719.12 202.03 L719.52 200.20 L719.93 198.22 L720.33 196.01 L720.74 193.53 L721.14 190.82 L721.55 187.97 L721.95 185.09 L722.36 182.26 L722.76 179.50 L723.17 176.80 L723.57 174.13 L723.98 171.47 L724.38 168.80 L724.79 166.13 L725.19 163.46 L725.60 160.79 L726.00 158.11 L726.41 155.44 L726.81 152.80 L727.22 150.21 L727.62 147.72 L728.03 145.35 L728.43 143.13 L728.84 141.04 L729.24 139.08 L729.65 137.21 L730.05 135.42 L730.46 133.69 L730.86 131.98 L731.27 130.24 L731.67 128.43 L732.08 126.53 L732.49 124.53 L732.89 122.47 L733.30 120.37 L733.70 118.29 L734.11 116.24 L734.51 114.23 L734.92 112.26 L735.32 110.34 L735.73 108.46 L736.13 106.62 L736.54 104.80 L736.94 103.03 L737.35 101.30 L737.75 99.62 L738.16 98.01 L738.56 96.47 L738.97 95.00 L739.37 93.59 L739.78 92.26 L740.18 91.00 L740.59 89.82 L740.99 88.72 L741.40 87.71 L741.80 86.79 L742.21 85.97 L742.61 85.24 L743.02 84.60 L743.42 84.06 L743.83 83.62 L744.23 83.30 L744.64 83.09 L745.04 83.01 L745.45 83.04 L745.86 83.20 L746.26 83.47 L746.67 83.86 L747.07 84.37 L747.48 84.99 L747.88 85.73 L748.29 86.57 L748.69 87.52 L749.10 88.57 L749.50 89.71 L749.91 90.96 L750.31 92.32 L750.72 93.80 L751.12 95.41 L751.53 97.15 L751.93 99.04 L752.34 101.06 L752.74 103.19 L753.15 105.43 L753.55 107.75 L753.96 110.15 L754.36 112.64 L754.77 115.20 L755.17 117.85 L755.58 120.60 L755.98 123.47 L756.39 126.49 L756.79 129.67 L757.20 133.04 L757.60 136.61 L758.01 140.35 L758.41 144.19 L758.82 148.05 L759.22 151.86 L759.63 155.61 L760.04 159.30 L760.44 162.97 L760.85 166.63 L761.25 170.30 L761.66 173.97 L762.06 177.61 L762.47 181.17 L762.87 184.63 L763.28 187.97 L763.68 191.16 L764.09 194.22 L764.49 197.15 L764.90 200.00 L765.30 202.81 L765.71 205.63 L766.11 208.50 L766.52 211.41 L766.92 214.36 L767.33 217.34 L767.73 220.32 L768.14 223.28 L768.54 226.18 L768.95 229.02 L769.35 231.75 L769.76 234.38 L770.16 236.89 L770.57 239.27 L770.97 241.53 L771.38 243.68 L771.78 245.73 L772.19 247.69 L772.59 249.59 L773.00 251.45" stroke="#1400c8" stroke-width="1.55"/>
</g>
<text x="475.75" y="256.85" font-size="16" text-anchor="end" >0</text>
<text x="475.75" y="202.69" font-size="16" text-anchor="end" >40</text>
<text x="475.75" y="148.53" font-size="16" text-anchor="end" >80</text>
<text x="475.75" y="94.36" font-size="16" text-anchor="end" >120</text>
<text x="475.75" y="40.2" font-size="16" text-anchor="end" >160</text>
<text x="481.05" y="269.34999999999997" font-size="16" text-anchor="middle" >0</text>
<text x="554.04" y="269.34999999999997" font-size="16" text-anchor="middle" >180</text>
<text x="627.02" y="269.34999999999997" font-size="16" text-anchor="middle" >360</text>
<text x="700.01" y="269.34999999999997" font-size="16" text-anchor="middle" >540</text>
<text x="773.0" y="269.34999999999997" font-size="16" text-anchor="middle" >720</text>
<text x="416.0" y="16.2" font-size="19.5" text-anchor="start" >(b)</text>
<path d="M505.3 44.5 H541.9" stroke="#000000" stroke-width="1.7" stroke-dasharray="6 2 2 2" fill="none"/>
<path d="M505.3 64.5 H541.9" stroke="#e01818" stroke-width="1.4" stroke-dasharray="1.35 1.35" fill="none"/>
<path d="M505.3 83.8 H541.9" stroke="#1400c8" stroke-width="1.55" fill="none"/>
<text x="546.0" y="50.5" font-size="16" text-anchor="start" >Case 1</text>
<text x="546.0" y="70.5" font-size="16" text-anchor="start" >Case 2</text>
<text x="546.0" y="89.8" font-size="16" text-anchor="start" >Case 3</text>
<g transform="translate(441.1,139.5) rotate(-90)"><text x="0" y="0" font-size="16" text-anchor="middle" letter-spacing="0.05">Power loss, <tspan font-style="italic">P</tspan><tspan font-style="italic" font-size="9.5" dy="1.5">loss</tspan><tspan dy="-1.5" dx="-0.6" font-size="16.9"> (W)</tspan></text></g>
<text x="550.1" y="291.8" font-size="16.35" text-anchor="start" >Crank angle,</text>
<text transform="translate(638.5,291.8) scale(1.2,1)" font-size="16" font-style="italic">θ</text>
<text x="649.8" y="291.8" font-size="16.15" text-anchor="start" >(degree)</text>
<g stroke="#484848" stroke-width="1.2" fill="none">
<path d="M72.7 348.2 V565.7 H364.8"/>
<path d="M72.7 565.70 h4.5"/>
<path d="M72.7 538.59 h2.5"/>
<path d="M72.7 511.48 h4.5"/>
<path d="M72.7 484.36 h2.5"/>
<path d="M72.7 457.25 h4.5"/>
<path d="M72.7 430.14 h2.5"/>
<path d="M72.7 403.03 h4.5"/>
<path d="M72.7 375.91 h2.5"/>
<path d="M72.7 348.80 h4.5"/>
<path d="M72.70 565.7 v-4.5"/>
<path d="M109.14 565.7 v-2.5"/>
<path d="M145.57 565.7 v-4.5"/>
<path d="M182.01 565.7 v-2.5"/>
<path d="M218.45 565.7 v-4.5"/>
<path d="M254.89 565.7 v-2.5"/>
<path d="M291.32 565.7 v-4.5"/>
<path d="M327.76 565.7 v-2.5"/>
<path d="M364.20 565.7 v-4.5"/>
</g>
<clipPath id="clc"><rect x="70.70" y="343.80" width="295.50" height="223.30"/></clipPath>
<g clip-path="url(#clc)" fill="none" stroke-linejoin="round">
<path d="M72.70 565.70 L73.10 565.30 L73.51 564.88 L73.91 564.41 L74.32 563.88 L74.72 563.30 L75.13 562.65 L75.53 561.93 L75.94 561.12 L76.34 560.23 L76.75 559.27 L77.15 558.24 L77.56 557.17 L77.96 556.07 L78.37 554.95 L78.77 553.82 L79.18 552.67 L79.58 551.50 L79.99 550.32 L80.39 549.12 L80.80 547.92 L81.20 546.72 L81.61 545.50 L82.01 544.28 L82.42 543.05 L82.82 541.79 L83.23 540.51 L83.63 539.20 L84.04 537.87 L84.44 536.51 L84.85 535.13 L85.25 533.76 L85.66 532.40 L86.06 531.05 L86.47 529.73 L86.87 528.44 L87.28 527.17 L87.68 525.92 L88.08 524.69 L88.49 523.48 L88.89 522.30 L89.30 521.13 L89.70 519.99 L90.11 518.86 L90.51 517.76 L90.92 516.69 L91.32 515.63 L91.73 514.61 L92.13 513.60 L92.54 512.62 L92.94 511.66 L93.35 510.71 L93.75 509.78 L94.16 508.85 L94.56 507.95 L94.97 507.07 L95.37 506.23 L95.78 505.43 L96.18 504.68 L96.59 503.98 L96.99 503.35 L97.40 502.77 L97.80 502.27 L98.21 501.84 L98.61 501.46 L99.02 501.14 L99.42 500.87 L99.83 500.63 L100.23 500.42 L100.64 500.24 L101.04 500.08 L101.45 499.95 L101.85 499.86 L102.25 499.80 L102.66 499.78 L103.06 499.81 L103.47 499.88 L103.87 500.00 L104.28 500.14 L104.68 500.33 L105.09 500.56 L105.49 500.84 L105.90 501.18 L106.30 501.56 L106.71 502.00 L107.11 502.48 L107.52 502.99 L107.92 503.53 L108.33 504.11 L108.73 504.75 L109.14 505.44 L109.54 506.19 L109.95 507.01 L110.35 507.89 L110.76 508.81 L111.16 509.76 L111.57 510.74 L111.97 511.73 L112.38 512.73 L112.78 513.74 L113.19 514.75 L113.59 515.75 L114.00 516.74 L114.40 517.73 L114.81 518.71 L115.21 519.70 L115.62 520.70 L116.02 521.69 L116.43 522.70 L116.83 523.71 L117.23 524.74 L117.64 525.78 L118.04 526.83 L118.45 527.90 L118.85 529.01 L119.26 530.14 L119.66 531.32 L120.07 532.52 L120.47 533.75 L120.88 534.98 L121.28 536.19 L121.69 537.37 L122.09 538.52 L122.50 539.63 L122.90 540.70 L123.31 541.75 L123.71 542.76 L124.12 543.75 L124.52 544.71 L124.93 545.65 L125.33 546.57 L125.74 547.46 L126.14 548.33 L126.55 549.18 L126.95 550.01 L127.36 550.82 L127.76 551.61 L128.17 552.38 L128.57 553.13 L128.98 553.86 L129.38 554.57 L129.79 555.26 L130.19 555.92 L130.60 556.56 L131.00 557.19 L131.40 557.79 L131.81 558.36 L132.21 558.92 L132.62 559.46 L133.02 559.97 L133.43 560.46 L133.83 560.92 L134.24 561.37 L134.64 561.79 L135.05 562.19 L135.45 562.57 L135.86 562.92 L136.26 563.25 L136.67 563.56 L137.07 563.86 L137.48 564.13 L137.88 564.38 L138.29 564.60 L138.69 564.79 L139.10 564.95 L139.50 565.08 L139.91 565.18 L140.31 565.27 L140.72 565.35 L141.12 565.41 L141.53 565.47 L141.93 565.51 L142.34 565.55 L142.74 565.58 L143.15 565.61 L143.55 565.63 L143.96 565.65 L144.36 565.67 L144.77 565.68 L145.17 565.68 L145.57 565.68 L145.98 565.66 L146.38 565.63 L146.79 565.59 L147.19 565.53 L147.60 565.46 L148.00 565.38 L148.41 565.28 L148.81 565.17 L149.22 565.04 L149.62 564.87 L150.03 564.67 L150.43 564.42 L150.84 564.13 L151.24 563.79 L151.65 563.43 L152.05 563.03 L152.46 562.61 L152.86 562.17 L153.27 561.69 L153.67 561.18 L154.08 560.65 L154.48 560.09 L154.89 559.51 L155.29 558.92 L155.70 558.32 L156.10 557.71 L156.51 557.09 L156.91 556.46 L157.32 555.81 L157.72 555.15 L158.13 554.46 L158.53 553.75 L158.94 553.01 L159.34 552.25 L159.75 551.47 L160.15 550.66 L160.55 549.82 L160.96 548.97 L161.36 548.11 L161.77 547.23 L162.17 546.33 L162.58 545.42 L162.98 544.50 L163.39 543.56 L163.79 542.60 L164.20 541.64 L164.60 540.68 L165.01 539.71 L165.41 538.74 L165.82 537.77 L166.22 536.80 L166.63 535.82 L167.03 534.84 L167.44 533.85 L167.84 532.85 L168.25 531.85 L168.65 530.85 L169.06 529.83 L169.46 528.81 L169.87 527.78 L170.27 526.75 L170.68 525.70 L171.08 524.65 L171.49 523.58 L171.89 522.50 L172.30 521.41 L172.70 520.30 L173.11 519.19 L173.51 518.06 L173.92 516.94 L174.32 515.83 L174.73 514.73 L175.13 513.64 L175.53 512.54 L175.94 511.40 L176.34 510.19 L176.75 508.90 L177.15 507.54 L177.56 506.15 L177.96 504.76 L178.37 503.41 L178.77 502.11 L179.18 500.87 L179.58 499.69 L179.99 498.58 L180.39 497.55 L180.80 496.57 L181.20 495.65 L181.61 494.78 L182.01 493.97 L182.42 493.21 L182.82 492.50 L183.23 491.85 L183.63 491.23 L184.04 490.67 L184.44 490.14 L184.85 489.67 L185.25 489.24 L185.66 488.86 L186.06 488.52 L186.47 488.22 L186.87 487.96 L187.28 487.73 L187.68 487.52 L188.09 487.35 L188.49 487.19 L188.90 487.06 L189.30 486.95 L189.70 486.86 L190.11 486.79 L190.51 486.76 L190.92 486.75 L191.32 486.79 L191.73 486.86 L192.13 486.98 L192.54 487.14 L192.94 487.35 L193.35 487.62 L193.75 487.96 L194.16 488.37 L194.56 488.85 L194.97 489.41 L195.37 490.05 L195.78 490.78 L196.18 491.59 L196.59 492.49 L196.99 493.46 L197.40 494.51 L197.80 495.63 L198.21 496.82 L198.61 498.07 L199.02 499.37 L199.42 500.71 L199.83 502.08 L200.23 503.47 L200.64 504.86 L201.04 506.23 L201.45 507.57 L201.85 508.90 L202.26 510.24 L202.66 511.60 L203.07 513.01 L203.47 514.48 L203.88 516.00 L204.28 517.59 L204.68 519.22 L205.09 520.90 L205.49 522.63 L205.90 524.40 L206.30 526.23 L206.71 528.11 L207.11 530.01 L207.52 531.93 L207.92 533.82 L208.33 535.66 L208.73 537.43 L209.14 539.15 L209.54 540.80 L209.95 542.42 L210.35 543.99 L210.76 545.54 L211.16 547.05 L211.57 548.54 L211.97 550.00 L212.38 551.42 L212.78 552.82 L213.19 554.18 L213.59 555.50 L214.00 556.77 L214.40 557.98 L214.81 559.13 L215.21 560.21 L215.62 561.20 L216.02 562.11 L216.43 562.91 L216.83 563.62 L217.24 564.24 L217.64 564.77 L218.05 565.25 L218.45 565.70 L218.45 565.70 L218.85 564.67 L219.26 563.59 L219.66 562.41 L220.07 561.11 L220.47 559.66 L220.88 558.06 L221.28 556.30 L221.69 554.43 L222.09 552.45 L222.50 550.42 L222.90 548.35 L223.31 546.25 L223.71 544.13 L224.12 542.00 L224.52 539.85 L224.93 537.70 L225.33 535.56 L225.74 533.46 L226.14 531.43 L226.55 529.50 L226.95 527.70 L227.36 525.98 L227.76 524.30 L228.17 522.58 L228.57 520.78 L228.98 518.93 L229.38 517.09 L229.79 515.32 L230.19 513.65 L230.60 512.05 L231.00 510.47 L231.41 508.85 L231.81 507.18 L232.22 505.44 L232.62 503.67 L233.02 501.92 L233.43 500.21 L233.83 498.58 L234.24 497.03 L234.64 495.57 L235.05 494.20 L235.45 492.92 L235.86 491.72 L236.26 490.61 L236.67 489.59 L237.07 488.65 L237.48 487.79 L237.88 487.00 L238.29 486.29 L238.69 485.64 L239.10 485.05 L239.50 484.54 L239.91 484.10 L240.31 483.72 L240.72 483.40 L241.12 483.13 L241.53 482.91 L241.93 482.75 L242.34 482.66 L242.74 482.65 L243.15 482.71 L243.55 482.85 L243.96 483.05 L244.36 483.31 L244.77 483.62 L245.17 483.97 L245.58 484.38 L245.98 484.85 L246.39 485.36 L246.79 485.90 L247.20 486.47 L247.60 487.06 L248.00 487.67 L248.41 488.31 L248.81 488.97 L249.22 489.67 L249.62 490.41 L250.03 491.19 L250.43 492.00 L250.84 492.85 L251.24 493.71 L251.65 494.60 L252.05 495.51 L252.46 496.42 L252.86 497.34 L253.27 498.25 L253.67 499.15 L254.08 500.05 L254.48 500.96 L254.89 501.89 L255.29 502.84 L255.70 503.81 L256.10 504.82 L256.51 505.84 L256.91 506.87 L257.32 507.91 L257.72 508.95 L258.13 509.98 L258.53 511.01 L258.94 512.04 L259.34 513.06 L259.75 514.07 L260.15 515.08 L260.56 516.08 L260.96 517.07 L261.37 518.04 L261.77 519.01 L262.18 519.97 L262.58 520.94 L262.98 521.92 L263.39 522.94 L263.79 524.01 L264.20 525.14 L264.60 526.33 L265.01 527.56 L265.41 528.84 L265.82 530.12 L266.22 531.39 L266.63 532.63 L267.03 533.82 L267.44 534.97 L267.84 536.06 L268.25 537.11 L268.65 538.13 L269.06 539.12 L269.46 540.09 L269.87 541.04 L270.27 541.99 L270.68 542.92 L271.08 543.84 L271.49 544.76 L271.89 545.66 L272.30 546.54 L272.70 547.41 L273.11 548.25 L273.51 549.07 L273.92 549.87 L274.32 550.64 L274.73 551.39 L275.13 552.11 L275.54 552.82 L275.94 553.50 L276.35 554.17 L276.75 554.81 L277.15 555.43 L277.56 556.04 L277.96 556.62 L278.37 557.19 L278.77 557.74 L279.18 558.28 L279.58 558.80 L279.99 559.30 L280.39 559.79 L280.80 560.27 L281.20 560.73 L281.61 561.17 L282.01 561.61 L282.42 562.02 L282.82 562.41 L283.23 562.78 L283.63 563.12 L284.04 563.45 L284.44 563.76 L284.85 564.04 L285.25 564.31 L285.66 564.54 L286.06 564.74 L286.47 564.90 L286.87 565.04 L287.28 565.15 L287.68 565.25 L288.09 565.33 L288.49 565.41 L288.90 565.48 L289.30 565.53 L289.71 565.58 L290.11 565.62 L290.52 565.65 L290.92 565.67 L291.32 565.67 L291.73 565.65 L292.13 565.62 L292.54 565.57 L292.94 565.50 L293.35 565.42 L293.75 565.32 L294.16 565.21 L294.56 565.07 L294.97 564.91 L295.37 564.71 L295.78 564.47 L296.18 564.18 L296.59 563.86 L296.99 563.50 L297.40 563.11 L297.80 562.70 L298.21 562.26 L298.61 561.79 L299.02 561.29 L299.42 560.76 L299.83 560.20 L300.23 559.63 L300.64 559.04 L301.04 558.44 L301.45 557.84 L301.85 557.22 L302.26 556.59 L302.66 555.95 L303.07 555.28 L303.47 554.60 L303.88 553.89 L304.28 553.16 L304.69 552.39 L305.09 551.60 L305.50 550.79 L305.90 549.95 L306.30 549.09 L306.71 548.21 L307.11 547.33 L307.52 546.43 L307.92 545.52 L308.33 544.60 L308.73 543.66 L309.14 542.71 L309.54 541.75 L309.95 540.78 L310.35 539.80 L310.76 538.80 L311.16 537.79 L311.57 536.77 L311.97 535.74 L312.38 534.70 L312.78 533.66 L313.19 532.63 L313.59 531.61 L314.00 530.60 L314.40 529.62 L314.81 528.64 L315.21 527.68 L315.62 526.71 L316.02 525.74 L316.43 524.74 L316.83 523.71 L317.24 522.64 L317.64 521.53 L318.05 520.36 L318.45 519.16 L318.86 517.93 L319.26 516.69 L319.67 515.46 L320.07 514.26 L320.48 513.08 L320.88 511.94 L321.28 510.84 L321.69 509.76 L322.09 508.72 L322.50 507.72 L322.90 506.74 L323.31 505.80 L323.71 504.90 L324.12 504.04 L324.52 503.24 L324.93 502.50 L325.33 501.85 L325.74 501.28 L326.14 500.78 L326.55 500.33 L326.95 499.94 L327.36 499.58 L327.76 499.26 L328.17 498.97 L328.57 498.70 L328.98 498.45 L329.38 498.23 L329.79 498.03 L330.19 497.84 L330.60 497.67 L331.00 497.51 L331.41 497.37 L331.81 497.23 L332.22 497.12 L332.62 497.02 L333.03 496.96 L333.43 496.93 L333.84 496.94 L334.24 496.99 L334.65 497.08 L335.05 497.20 L335.45 497.36 L335.86 497.55 L336.26 497.77 L336.67 498.04 L337.07 498.35 L337.48 498.70 L337.88 499.11 L338.29 499.57 L338.69 500.08 L339.10 500.66 L339.50 501.29 L339.91 501.98 L340.31 502.73 L340.72 503.54 L341.12 504.41 L341.53 505.33 L341.93 506.29 L342.34 507.29 L342.74 508.33 L343.15 509.39 L343.55 510.48 L343.96 511.60 L344.36 512.75 L344.77 513.92 L345.17 515.11 L345.58 516.33 L345.98 517.56 L346.39 518.81 L346.79 520.08 L347.20 521.36 L347.60 522.68 L348.01 524.03 L348.41 525.43 L348.82 526.89 L349.22 528.39 L349.62 529.93 L350.03 531.50 L350.43 533.09 L350.84 534.67 L351.24 536.23 L351.65 537.75 L352.05 539.23 L352.46 540.64 L352.86 542.00 L353.27 543.31 L353.67 544.57 L354.08 545.79 L354.48 546.97 L354.89 548.12 L355.29 549.23 L355.70 550.32 L356.10 551.38 L356.51 552.41 L356.91 553.41 L357.32 554.39 L357.72 555.34 L358.13 556.26 L358.53 557.17 L358.94 558.05 L359.34 558.92 L359.75 559.76 L360.15 560.57 L360.56 561.33 L360.96 562.05 L361.37 562.70 L361.77 563.29 L362.18 563.82 L362.58 564.29 L362.99 564.70 L363.39 565.07 L363.80 565.39 L364.20 565.70" stroke="#000000" stroke-width="1.7" stroke-dasharray="6 2 2 2"/>
<path d="M72.70 565.70 L73.10 565.23 L73.51 564.73 L73.91 564.20 L74.32 563.63 L74.72 563.01 L75.13 562.33 L75.53 561.59 L75.94 560.79 L76.34 559.94 L76.75 559.03 L77.15 558.10 L77.56 557.16 L77.96 556.21 L78.37 555.26 L78.77 554.30 L79.18 553.35 L79.58 552.39 L79.99 551.44 L80.39 550.48 L80.80 549.53 L81.20 548.58 L81.61 547.63 L82.01 546.67 L82.42 545.71 L82.82 544.74 L83.23 543.76 L83.63 542.78 L84.04 541.79 L84.44 540.80 L84.85 539.82 L85.25 538.86 L85.66 537.92 L86.06 537.00 L86.47 536.10 L86.87 535.23 L87.28 534.36 L87.68 533.50 L88.08 532.65 L88.49 531.80 L88.89 530.96 L89.30 530.13 L89.70 529.32 L90.11 528.53 L90.51 527.78 L90.92 527.06 L91.32 526.37 L91.73 525.72 L92.13 525.10 L92.54 524.50 L92.94 523.93 L93.35 523.39 L93.75 522.87 L94.16 522.37 L94.56 521.90 L94.97 521.44 L95.37 521.02 L95.78 520.62 L96.18 520.25 L96.59 519.91 L96.99 519.61 L97.40 519.34 L97.80 519.09 L98.21 518.87 L98.61 518.67 L99.02 518.49 L99.42 518.33 L99.83 518.20 L100.23 518.09 L100.64 517.99 L101.04 517.91 L101.45 517.85 L101.85 517.80 L102.25 517.78 L102.66 517.78 L103.06 517.82 L103.47 517.88 L103.87 517.98 L104.28 518.10 L104.68 518.24 L105.09 518.41 L105.49 518.61 L105.90 518.84 L106.30 519.10 L106.71 519.40 L107.11 519.72 L107.52 520.06 L107.92 520.42 L108.33 520.81 L108.73 521.21 L109.14 521.63 L109.54 522.07 L109.95 522.54 L110.35 523.02 L110.76 523.52 L111.16 524.04 L111.57 524.57 L111.97 525.12 L112.38 525.69 L112.78 526.27 L113.19 526.88 L113.59 527.50 L114.00 528.15 L114.40 528.81 L114.81 529.50 L115.21 530.21 L115.62 530.95 L116.02 531.70 L116.43 532.46 L116.83 533.22 L117.23 533.97 L117.64 534.72 L118.04 535.47 L118.45 536.20 L118.85 536.94 L119.26 537.67 L119.66 538.40 L120.07 539.13 L120.47 539.87 L120.88 540.61 L121.28 541.35 L121.69 542.09 L122.09 542.83 L122.50 543.57 L122.90 544.31 L123.31 545.03 L123.71 545.75 L124.12 546.46 L124.52 547.16 L124.93 547.85 L125.33 548.53 L125.74 549.20 L126.14 549.86 L126.55 550.52 L126.95 551.16 L127.36 551.80 L127.76 552.42 L128.17 553.04 L128.57 553.64 L128.98 554.24 L129.38 554.83 L129.79 555.40 L130.19 555.97 L130.60 556.53 L131.00 557.08 L131.40 557.62 L131.81 558.14 L132.21 558.65 L132.62 559.14 L133.02 559.61 L133.43 560.05 L133.83 560.48 L134.24 560.90 L134.64 561.29 L135.05 561.68 L135.45 562.04 L135.86 562.39 L136.26 562.73 L136.67 563.05 L137.07 563.36 L137.48 563.66 L137.88 563.94 L138.29 564.19 L138.69 564.42 L139.10 564.62 L139.50 564.79 L139.91 564.95 L140.31 565.09 L140.72 565.21 L141.12 565.32 L141.53 565.41 L141.93 565.48 L142.34 565.54 L142.74 565.58 L143.15 565.61 L143.55 565.63 L143.96 565.65 L144.36 565.67 L144.77 565.68 L145.17 565.68 L145.57 565.68 L145.98 565.66 L146.38 565.63 L146.79 565.59 L147.19 565.53 L147.60 565.46 L148.00 565.38 L148.41 565.28 L148.81 565.17 L149.22 565.04 L149.62 564.88 L150.03 564.68 L150.43 564.43 L150.84 564.15 L151.24 563.84 L151.65 563.50 L152.05 563.15 L152.46 562.78 L152.86 562.41 L153.27 562.03 L153.67 561.64 L154.08 561.23 L154.48 560.81 L154.89 560.36 L155.29 559.88 L155.70 559.38 L156.10 558.85 L156.51 558.29 L156.91 557.70 L157.32 557.09 L157.72 556.46 L158.13 555.82 L158.53 555.18 L158.94 554.53 L159.34 553.87 L159.75 553.20 L160.15 552.53 L160.55 551.84 L160.96 551.15 L161.36 550.46 L161.77 549.75 L162.17 549.04 L162.58 548.32 L162.98 547.60 L163.39 546.87 L163.79 546.13 L164.20 545.39 L164.60 544.65 L165.01 543.90 L165.41 543.15 L165.82 542.40 L166.22 541.64 L166.63 540.89 L167.03 540.15 L167.44 539.41 L167.84 538.68 L168.25 537.97 L168.65 537.26 L169.06 536.57 L169.46 535.88 L169.87 535.20 L170.27 534.52 L170.68 533.84 L171.08 533.17 L171.49 532.50 L171.89 531.83 L172.30 531.16 L172.70 530.50 L173.11 529.85 L173.51 529.21 L173.92 528.57 L174.32 527.95 L174.73 527.34 L175.13 526.73 L175.53 526.13 L175.94 525.52 L176.34 524.91 L176.75 524.28 L177.15 523.64 L177.56 522.97 L177.96 522.29 L178.37 521.60 L178.77 520.90 L179.18 520.20 L179.58 519.51 L179.99 518.82 L180.39 518.14 L180.80 517.48 L181.20 516.82 L181.61 516.16 L182.01 515.51 L182.42 514.87 L182.82 514.22 L183.23 513.57 L183.63 512.93 L184.04 512.28 L184.44 511.64 L184.85 511.00 L185.25 510.38 L185.66 509.78 L186.06 509.20 L186.47 508.64 L186.87 508.10 L187.28 507.59 L187.68 507.11 L188.09 506.65 L188.49 506.21 L188.90 505.80 L189.30 505.42 L189.70 505.09 L190.11 504.79 L190.51 504.53 L190.92 504.31 L191.32 504.11 L191.73 503.94 L192.13 503.80 L192.54 503.69 L192.94 503.63 L193.35 503.62 L193.75 503.68 L194.16 503.81 L194.56 504.00 L194.97 504.26 L195.37 504.58 L195.78 504.95 L196.18 505.38 L196.59 505.88 L196.99 506.43 L197.40 507.03 L197.80 507.67 L198.21 508.36 L198.61 509.09 L199.02 509.86 L199.42 510.66 L199.83 511.49 L200.23 512.36 L200.64 513.28 L201.04 514.25 L201.45 515.28 L201.85 516.38 L202.26 517.55 L202.66 518.79 L203.07 520.08 L203.47 521.40 L203.88 522.76 L204.28 524.13 L204.68 525.54 L205.09 526.98 L205.49 528.47 L205.90 529.99 L206.30 531.53 L206.71 533.05 L207.11 534.52 L207.52 535.90 L207.92 537.20 L208.33 538.42 L208.73 539.59 L209.14 540.75 L209.54 541.93 L209.95 543.16 L210.35 544.45 L210.76 545.81 L211.16 547.22 L211.57 548.66 L211.97 550.11 L212.38 551.54 L212.78 552.95 L213.19 554.31 L213.59 555.63 L214.00 556.89 L214.40 558.09 L214.81 559.22 L215.21 560.28 L215.62 561.25 L216.02 562.14 L216.43 562.93 L216.83 563.62 L217.24 564.23 L217.64 564.77 L218.05 565.25 L218.45 565.70 L218.45 565.70 L218.85 564.67 L219.26 563.59 L219.66 562.41 L220.07 561.11 L220.47 559.66 L220.88 558.06 L221.28 556.30 L221.69 554.43 L222.09 552.45 L222.50 550.42 L222.90 548.35 L223.31 546.25 L223.71 544.13 L224.12 542.00 L224.52 539.85 L224.93 537.70 L225.33 535.56 L225.74 533.46 L226.14 531.43 L226.55 529.50 L226.95 527.70 L227.36 525.98 L227.76 524.30 L228.17 522.58 L228.57 520.78 L228.98 518.93 L229.38 517.09 L229.79 515.32 L230.19 513.65 L230.60 512.05 L231.00 510.47 L231.41 508.85 L231.81 507.18 L232.22 505.44 L232.62 503.67 L233.02 501.92 L233.43 500.21 L233.83 498.58 L234.24 497.04 L234.64 495.58 L235.05 494.19 L235.45 492.89 L235.86 491.66 L236.26 490.51 L236.67 489.44 L237.07 488.45 L237.48 487.54 L237.88 486.72 L238.29 485.97 L238.69 485.29 L239.10 484.69 L239.50 484.16 L239.91 483.70 L240.31 483.32 L240.72 482.99 L241.12 482.72 L241.53 482.50 L241.93 482.34 L242.34 482.26 L242.74 482.25 L243.15 482.33 L243.55 482.48 L243.96 482.70 L244.36 482.99 L244.77 483.32 L245.17 483.72 L245.58 484.17 L245.98 484.68 L246.39 485.25 L246.79 485.85 L247.20 486.48 L247.60 487.12 L248.00 487.79 L248.41 488.47 L248.81 489.18 L249.22 489.92 L249.62 490.68 L250.03 491.47 L250.43 492.28 L250.84 493.12 L251.24 493.99 L251.65 494.88 L252.05 495.78 L252.46 496.69 L252.86 497.61 L253.27 498.52 L253.67 499.42 L254.08 500.33 L254.48 501.23 L254.89 502.16 L255.29 503.11 L255.70 504.08 L256.10 505.09 L256.51 506.11 L256.91 507.14 L257.32 508.18 L257.72 509.22 L258.13 510.25 L258.53 511.28 L258.94 512.31 L259.34 513.33 L259.75 514.34 L260.15 515.35 L260.56 516.35 L260.96 517.34 L261.37 518.32 L261.77 519.28 L262.18 520.24 L262.58 521.21 L262.98 522.19 L263.39 523.21 L263.79 524.28 L264.20 525.41 L264.60 526.60 L265.01 527.83 L265.41 529.11 L265.82 530.39 L266.22 531.66 L266.63 532.90 L267.03 534.09 L267.44 535.24 L267.84 536.33 L268.25 537.38 L268.65 538.40 L269.06 539.39 L269.46 540.36 L269.87 541.32 L270.27 542.26 L270.68 543.19 L271.08 544.12 L271.49 545.03 L271.89 545.94 L272.30 546.82 L272.70 547.69 L273.11 548.53 L273.51 549.34 L273.92 550.13 L274.32 550.89 L274.73 551.62 L275.13 552.33 L275.54 553.02 L275.94 553.68 L276.35 554.33 L276.75 554.96 L277.15 555.58 L277.56 556.18 L277.96 556.76 L278.37 557.33 L278.77 557.88 L279.18 558.42 L279.58 558.94 L279.99 559.44 L280.39 559.92 L280.80 560.38 L281.20 560.83 L281.61 561.26 L282.01 561.67 L282.42 562.07 L282.82 562.44 L283.23 562.79 L283.63 563.13 L284.04 563.45 L284.44 563.75 L284.85 564.04 L285.25 564.30 L285.66 564.54 L286.06 564.74 L286.47 564.90 L286.87 565.04 L287.28 565.15 L287.68 565.25 L288.09 565.33 L288.49 565.41 L288.90 565.48 L289.30 565.53 L289.71 565.58 L290.11 565.62 L290.52 565.65 L290.92 565.67 L291.32 565.67 L291.73 565.65 L292.13 565.62 L292.54 565.57 L292.94 565.50 L293.35 565.42 L293.75 565.32 L294.16 565.21 L294.56 565.07 L294.97 564.91 L295.37 564.72 L295.78 564.48 L296.18 564.21 L296.59 563.90 L296.99 563.57 L297.40 563.22 L297.80 562.86 L298.21 562.49 L298.61 562.11 L299.02 561.72 L299.42 561.32 L299.83 560.89 L300.23 560.45 L300.64 559.98 L301.04 559.48 L301.45 558.95 L301.85 558.39 L302.26 557.80 L302.66 557.19 L303.07 556.57 L303.47 555.94 L303.88 555.32 L304.28 554.70 L304.69 554.09 L305.09 553.47 L305.50 552.86 L305.90 552.25 L306.30 551.63 L306.71 551.00 L307.11 550.36 L307.52 549.70 L307.92 549.04 L308.33 548.37 L308.73 547.69 L309.14 547.01 L309.54 546.33 L309.95 545.64 L310.35 544.96 L310.76 544.28 L311.16 543.60 L311.57 542.92 L311.97 542.24 L312.38 541.57 L312.78 540.89 L313.19 540.21 L313.59 539.54 L314.00 538.86 L314.40 538.18 L314.81 537.51 L315.21 536.85 L315.62 536.19 L316.02 535.53 L316.43 534.89 L316.83 534.26 L317.24 533.64 L317.64 533.03 L318.05 532.42 L318.45 531.82 L318.86 531.23 L319.26 530.64 L319.67 530.05 L320.07 529.47 L320.48 528.90 L320.88 528.33 L321.28 527.77 L321.69 527.23 L322.09 526.69 L322.50 526.17 L322.90 525.67 L323.31 525.17 L323.71 524.69 L324.12 524.23 L324.52 523.77 L324.93 523.34 L325.33 522.92 L325.74 522.51 L326.14 522.12 L326.55 521.74 L326.95 521.38 L327.36 521.04 L327.76 520.73 L328.17 520.44 L328.57 520.17 L328.98 519.93 L329.38 519.71 L329.79 519.51 L330.19 519.32 L330.60 519.16 L331.00 519.01 L331.41 518.88 L331.81 518.77 L332.22 518.68 L332.62 518.59 L333.03 518.53 L333.43 518.48 L333.84 518.46 L334.24 518.47 L334.65 518.52 L335.05 518.60 L335.45 518.72 L335.86 518.86 L336.26 519.04 L336.67 519.24 L337.07 519.47 L337.48 519.73 L337.88 520.03 L338.29 520.37 L338.69 520.74 L339.10 521.14 L339.50 521.58 L339.91 522.07 L340.31 522.59 L340.72 523.15 L341.12 523.74 L341.53 524.36 L341.93 525.00 L342.34 525.67 L342.74 526.37 L343.15 527.09 L343.55 527.84 L343.96 528.62 L344.36 529.43 L344.77 530.27 L345.17 531.13 L345.58 532.02 L345.98 532.93 L346.39 533.86 L346.79 534.80 L347.20 535.74 L347.60 536.70 L348.01 537.66 L348.41 538.63 L348.82 539.60 L349.22 540.58 L349.62 541.55 L350.03 542.53 L350.43 543.50 L350.84 544.47 L351.24 545.44 L351.65 546.39 L352.05 547.34 L352.46 548.28 L352.86 549.21 L353.27 550.12 L353.67 551.02 L354.08 551.89 L354.48 552.72 L354.89 553.53 L355.29 554.31 L355.70 555.06 L356.10 555.79 L356.51 556.51 L356.91 557.21 L357.32 557.90 L357.72 558.57 L358.13 559.24 L358.53 559.89 L358.94 560.52 L359.34 561.12 L359.75 561.71 L360.15 562.27 L360.56 562.81 L360.96 563.31 L361.37 563.77 L361.77 564.18 L362.18 564.54 L362.58 564.85 L362.99 565.11 L363.39 565.33 L363.80 565.52 L364.20 565.70" stroke="#e01818" stroke-width="1.4" stroke-dasharray="1.35 1.35"/>
<path d="M72.70 565.70 L73.10 565.25 L73.51 564.78 L73.91 564.26 L74.32 563.68 L74.72 563.03 L75.13 562.30 L75.53 561.49 L75.94 560.60 L76.34 559.62 L76.75 558.56 L77.15 557.46 L77.56 556.33 L77.96 555.17 L78.37 554.00 L78.77 552.81 L79.18 551.61 L79.58 550.39 L79.99 549.16 L80.39 547.92 L80.80 546.68 L81.20 545.43 L81.61 544.16 L82.01 542.89 L82.42 541.59 L82.82 540.28 L83.23 538.93 L83.63 537.56 L84.04 536.17 L84.44 534.78 L84.85 533.38 L85.25 532.01 L85.66 530.65 L86.06 529.32 L86.47 528.01 L86.87 526.73 L87.28 525.47 L87.68 524.23 L88.08 523.01 L88.49 521.82 L88.89 520.64 L89.30 519.49 L89.70 518.36 L90.11 517.26 L90.51 516.18 L90.92 515.12 L91.32 514.09 L91.73 513.07 L92.13 512.07 L92.54 511.08 L92.94 510.08 L93.35 509.08 L93.75 508.06 L94.16 507.05 L94.56 506.04 L94.97 505.04 L95.37 504.05 L95.78 503.08 L96.18 502.15 L96.59 501.25 L96.99 500.41 L97.40 499.63 L97.80 498.92 L98.21 498.28 L98.61 497.71 L99.02 497.20 L99.42 496.77 L99.83 496.39 L100.23 496.08 L100.64 495.82 L101.04 495.62 L101.45 495.47 L101.85 495.37 L102.25 495.31 L102.66 495.30 L103.06 495.34 L103.47 495.43 L103.87 495.57 L104.28 495.77 L104.68 496.01 L105.09 496.31 L105.49 496.66 L105.90 497.06 L106.30 497.51 L106.71 497.99 L107.11 498.52 L107.52 499.09 L107.92 499.71 L108.33 500.36 L108.73 501.05 L109.14 501.79 L109.54 502.56 L109.95 503.36 L110.35 504.18 L110.76 505.01 L111.16 505.84 L111.57 506.67 L111.97 507.51 L112.38 508.36 L112.78 509.23 L113.19 510.12 L113.59 511.03 L114.00 511.96 L114.40 512.93 L114.81 513.92 L115.21 514.94 L115.62 515.99 L116.02 517.06 L116.43 518.16 L116.83 519.28 L117.23 520.39 L117.64 521.51 L118.04 522.62 L118.45 523.73 L118.85 524.84 L119.26 525.96 L119.66 527.08 L120.07 528.22 L120.47 529.38 L120.88 530.59 L121.28 531.84 L121.69 533.13 L122.09 534.44 L122.50 535.76 L122.90 537.06 L123.31 538.32 L123.71 539.55 L124.12 540.74 L124.52 541.90 L124.93 543.02 L125.33 544.11 L125.74 545.17 L126.14 546.20 L126.55 547.20 L126.95 548.17 L127.36 549.12 L127.76 550.04 L128.17 550.94 L128.57 551.81 L128.98 552.66 L129.38 553.50 L129.79 554.30 L130.19 555.09 L130.60 555.85 L131.00 556.59 L131.40 557.30 L131.81 557.99 L132.21 558.65 L132.62 559.28 L133.02 559.86 L133.43 560.41 L133.83 560.91 L134.24 561.37 L134.64 561.80 L135.05 562.20 L135.45 562.58 L135.86 562.93 L136.26 563.25 L136.67 563.57 L137.07 563.86 L137.48 564.13 L137.88 564.38 L138.29 564.60 L138.69 564.79 L139.10 564.95 L139.50 565.08 L139.91 565.18 L140.31 565.27 L140.72 565.35 L141.12 565.41 L141.53 565.47 L141.93 565.51 L142.34 565.55 L142.74 565.58 L143.15 565.61 L143.55 565.63 L143.96 565.65 L144.36 565.67 L144.77 565.68 L145.17 565.68 L145.57 565.68 L145.98 565.66 L146.38 565.63 L146.79 565.59 L147.19 565.53 L147.60 565.46 L148.00 565.38 L148.41 565.28 L148.81 565.17 L149.22 565.04 L149.62 564.87 L150.03 564.67 L150.43 564.42 L150.84 564.13 L151.24 563.79 L151.65 563.43 L152.05 563.03 L152.46 562.62 L152.86 562.17 L153.27 561.70 L153.67 561.19 L154.08 560.66 L154.48 560.09 L154.89 559.51 L155.29 558.92 L155.70 558.31 L156.10 557.68 L156.51 557.04 L156.91 556.39 L157.32 555.71 L157.72 555.01 L158.13 554.28 L158.53 553.53 L158.94 552.75 L159.34 551.95 L159.75 551.11 L160.15 550.25 L160.55 549.36 L160.96 548.45 L161.36 547.53 L161.77 546.59 L162.17 545.64 L162.58 544.67 L162.98 543.68 L163.39 542.68 L163.79 541.67 L164.20 540.66 L164.60 539.64 L165.01 538.62 L165.41 537.60 L165.82 536.58 L166.22 535.55 L166.63 534.52 L167.03 533.48 L167.44 532.43 L167.84 531.37 L168.25 530.30 L168.65 529.22 L169.06 528.14 L169.46 527.04 L169.87 525.92 L170.27 524.80 L170.68 523.66 L171.08 522.51 L171.49 521.33 L171.89 520.14 L172.30 518.94 L172.70 517.74 L173.11 516.55 L173.51 515.38 L173.92 514.24 L174.32 513.11 L174.73 511.96 L175.13 510.72 L175.53 509.37 L175.94 507.91 L176.34 506.38 L176.75 504.87 L177.15 503.41 L177.56 502.04 L177.96 500.75 L178.37 499.52 L178.77 498.36 L179.18 497.24 L179.58 496.17 L179.99 495.14 L180.39 494.15 L180.80 493.20 L181.20 492.30 L181.61 491.43 L182.01 490.61 L182.42 489.82 L182.82 489.07 L183.23 488.35 L183.63 487.68 L184.04 487.05 L184.44 486.46 L184.85 485.90 L185.25 485.38 L185.66 484.90 L186.06 484.46 L186.47 484.05 L186.87 483.68 L187.28 483.34 L187.68 483.04 L188.09 482.78 L188.49 482.56 L188.90 482.37 L189.30 482.23 L189.70 482.12 L190.11 482.06 L190.51 482.05 L190.92 482.09 L191.32 482.18 L191.73 482.34 L192.13 482.56 L192.54 482.86 L192.94 483.23 L193.35 483.69 L193.75 484.23 L194.16 484.85 L194.56 485.54 L194.97 486.31 L195.37 487.16 L195.78 488.08 L196.18 489.07 L196.59 490.12 L196.99 491.24 L197.40 492.41 L197.80 493.64 L198.21 494.91 L198.61 496.22 L199.02 497.57 L199.42 498.95 L199.83 500.36 L200.23 501.78 L200.64 503.21 L201.04 504.65 L201.45 506.11 L201.85 507.59 L202.26 509.12 L202.66 510.69 L203.07 512.32 L203.47 514.00 L203.88 515.71 L204.28 517.44 L204.68 519.17 L205.09 520.90 L205.49 522.65 L205.90 524.43 L206.30 526.25 L206.71 528.12 L207.11 530.02 L207.52 531.93 L207.92 533.82 L208.33 535.66 L208.73 537.43 L209.14 539.15 L209.54 540.80 L209.95 542.42 L210.35 543.99 L210.76 545.54 L211.16 547.05 L211.57 548.54 L211.97 550.00 L212.38 551.42 L212.78 552.82 L213.19 554.18 L213.59 555.50 L214.00 556.77 L214.40 557.98 L214.81 559.13 L215.21 560.21 L215.62 561.20 L216.02 562.11 L216.43 562.91 L216.83 563.62 L217.24 564.24 L217.64 564.77 L218.05 565.25 L218.45 565.70 L218.45 565.70 L218.85 564.59 L219.26 563.42 L219.66 562.14 L220.07 560.72 L220.47 559.13 L220.88 557.38 L221.28 555.47 L221.69 553.43 L222.09 551.31 L222.50 549.14 L222.90 546.93 L223.31 544.69 L223.71 542.43 L224.12 540.16 L224.52 537.87 L224.93 535.59 L225.33 533.34 L225.74 531.15 L226.14 529.04 L226.55 527.01 L226.95 525.03 L227.36 523.02 L227.76 520.96 L228.17 518.83 L228.57 516.67 L228.98 514.52 L229.38 512.41 L229.79 510.34 L230.19 508.27 L230.60 506.20 L231.00 504.14 L231.41 502.10 L231.81 500.11 L232.22 498.20 L232.62 496.37 L233.02 494.62 L233.43 492.94 L233.83 491.33 L234.24 489.81 L234.64 488.37 L235.05 487.04 L235.45 485.81 L235.86 484.68 L236.26 483.65 L236.67 482.72 L237.07 481.87 L237.48 481.12 L237.88 480.44 L238.29 479.85 L238.69 479.34 L239.10 478.91 L239.50 478.54 L239.91 478.24 L240.31 477.99 L240.72 477.80 L241.12 477.66 L241.53 477.59 L241.93 477.58 L242.34 477.63 L242.74 477.73 L243.15 477.87 L243.55 478.05 L243.96 478.27 L244.36 478.55 L244.77 478.87 L245.17 479.25 L245.58 479.68 L245.98 480.15 L246.39 480.67 L246.79 481.21 L247.20 481.80 L247.60 482.43 L248.00 483.11 L248.41 483.83 L248.81 484.61 L249.22 485.42 L249.62 486.27 L250.03 487.14 L250.43 488.02 L250.84 488.90 L251.24 489.79 L251.65 490.69 L252.05 491.59 L252.46 492.50 L252.86 493.42 L253.27 494.34 L253.67 495.28 L254.08 496.23 L254.48 497.21 L254.89 498.21 L255.29 499.23 L255.70 500.26 L256.10 501.29 L256.51 502.31 L256.91 503.32 L257.32 504.33 L257.72 505.32 L258.13 506.31 L258.53 507.28 L258.94 508.25 L259.34 509.22 L259.75 510.20 L260.15 511.21 L260.56 512.25 L260.96 513.31 L261.37 514.39 L261.77 515.48 L262.18 516.58 L262.58 517.68 L262.98 518.79 L263.39 519.89 L263.79 520.99 L264.20 522.11 L264.60 523.24 L265.01 524.39 L265.41 525.55 L265.82 526.74 L266.22 527.95 L266.63 529.17 L267.03 530.40 L267.44 531.62 L267.84 532.82 L268.25 534.00 L268.65 535.16 L269.06 536.30 L269.46 537.41 L269.87 538.51 L270.27 539.59 L270.68 540.65 L271.08 541.70 L271.49 542.73 L271.89 543.75 L272.30 544.75 L272.70 545.73 L273.11 546.70 L273.51 547.64 L273.92 548.55 L274.32 549.43 L274.73 550.29 L275.13 551.12 L275.54 551.92 L275.94 552.69 L276.35 553.44 L276.75 554.17 L277.15 554.88 L277.56 555.56 L277.96 556.23 L278.37 556.87 L278.77 557.50 L279.18 558.10 L279.58 558.68 L279.99 559.23 L280.39 559.75 L280.80 560.25 L281.20 560.73 L281.61 561.19 L282.01 561.62 L282.42 562.03 L282.82 562.42 L283.23 562.78 L283.63 563.12 L284.04 563.45 L284.44 563.76 L284.85 564.04 L285.25 564.31 L285.66 564.54 L286.06 564.74 L286.47 564.90 L286.87 565.04 L287.28 565.15 L287.68 565.25 L288.09 565.33 L288.49 565.41 L288.90 565.48 L289.30 565.53 L289.71 565.58 L290.11 565.62 L290.52 565.65 L290.92 565.67 L291.32 565.67 L291.73 565.65 L292.13 565.62 L292.54 565.57 L292.94 565.50 L293.35 565.42 L293.75 565.32 L294.16 565.21 L294.56 565.07 L294.97 564.91 L295.37 564.71 L295.78 564.47 L296.18 564.18 L296.59 563.86 L296.99 563.50 L297.40 563.11 L297.80 562.70 L298.21 562.26 L298.61 561.79 L299.02 561.29 L299.42 560.76 L299.83 560.21 L300.23 559.63 L300.64 559.04 L301.04 558.43 L301.45 557.81 L301.85 557.18 L302.26 556.52 L302.66 555.85 L303.07 555.15 L303.47 554.43 L303.88 553.68 L304.28 552.90 L304.69 552.09 L305.09 551.25 L305.50 550.38 L305.90 549.48 L306.30 548.57 L306.71 547.64 L307.11 546.70 L307.52 545.74 L307.92 544.77 L308.33 543.79 L308.73 542.80 L309.14 541.79 L309.54 540.76 L309.95 539.73 L310.35 538.68 L310.76 537.61 L311.16 536.53 L311.57 535.45 L311.97 534.36 L312.38 533.27 L312.78 532.18 L313.19 531.11 L313.59 530.05 L314.00 529.00 L314.40 527.97 L314.81 526.93 L315.21 525.90 L315.62 524.85 L316.02 523.79 L316.43 522.70 L316.83 521.58 L317.24 520.44 L317.64 519.27 L318.05 518.09 L318.45 516.91 L318.86 515.74 L319.26 514.59 L319.67 513.45 L320.07 512.33 L320.48 511.22 L320.88 510.10 L321.28 508.97 L321.69 507.80 L322.09 506.59 L322.50 505.35 L322.90 504.10 L323.31 502.86 L323.71 501.66 L324.12 500.55 L324.52 499.53 L324.93 498.59 L325.33 497.74 L325.74 496.97 L326.14 496.26 L326.55 495.61 L326.95 495.01 L327.36 494.45 L327.76 493.95 L328.17 493.48 L328.57 493.05 L328.98 492.67 L329.38 492.32 L329.79 492.00 L330.19 491.72 L330.60 491.47 L331.00 491.25 L331.41 491.06 L331.81 490.90 L332.22 490.77 L332.62 490.67 L333.03 490.60 L333.43 490.57 L333.84 490.57 L334.24 490.63 L334.65 490.73 L335.05 490.88 L335.45 491.07 L335.86 491.30 L336.26 491.56 L336.67 491.87 L337.07 492.22 L337.48 492.63 L337.88 493.09 L338.29 493.61 L338.69 494.19 L339.10 494.84 L339.50 495.54 L339.91 496.31 L340.31 497.12 L340.72 497.99 L341.12 498.91 L341.53 499.87 L341.93 500.88 L342.34 501.93 L342.74 503.01 L343.15 504.13 L343.55 505.26 L343.96 506.42 L344.36 507.60 L344.77 508.81 L345.17 510.06 L345.58 511.38 L345.98 512.76 L346.39 514.20 L346.79 515.69 L347.20 517.20 L347.60 518.72 L348.01 520.24 L348.41 521.76 L348.82 523.30 L349.22 524.85 L349.62 526.41 L350.03 528.00 L350.43 529.61 L350.84 531.24 L351.24 532.88 L351.65 534.52 L352.05 536.16 L352.46 537.78 L352.86 539.36 L353.27 540.91 L353.67 542.41 L354.08 543.86 L354.48 545.27 L354.89 546.63 L355.29 547.94 L355.70 549.20 L356.10 550.42 L356.51 551.60 L356.91 552.75 L357.32 553.86 L357.72 554.94 L358.13 555.99 L358.53 557.00 L358.94 557.96 L359.34 558.88 L359.75 559.75 L360.15 560.58 L360.56 561.35 L360.96 562.06 L361.37 562.71 L361.77 563.30 L362.18 563.82 L362.58 564.29 L362.99 564.70 L363.39 565.07 L363.80 565.39 L364.20 565.70" stroke="#1400c8" stroke-width="1.55"/>
</g>
<text x="67.4" y="571.1" font-size="16" text-anchor="end" >0</text>
<text x="67.4" y="516.88" font-size="16" text-anchor="end" >40</text>
<text x="67.4" y="462.65" font-size="16" text-anchor="end" >80</text>
<text x="67.4" y="408.43" font-size="16" text-anchor="end" >120</text>
<text x="67.4" y="354.2" font-size="16" text-anchor="end" >160</text>
<text x="72.7" y="583.6" font-size="16" text-anchor="middle" >0</text>
<text x="145.57" y="583.6" font-size="16" text-anchor="middle" >180</text>
<text x="218.45" y="583.6" font-size="16" text-anchor="middle" >360</text>
<text x="291.32" y="583.6" font-size="16" text-anchor="middle" >540</text>
<text x="364.2" y="583.6" font-size="16" text-anchor="middle" >720</text>
<text x="2.6" y="327.9" font-size="19.5" text-anchor="start" >(c)</text>
<path d="M90.0 360.7 H126.8" stroke="#000000" stroke-width="1.7" stroke-dasharray="6 2 2 2" fill="none"/>
<path d="M90.0 380.8 H126.8" stroke="#e01818" stroke-width="1.4" stroke-dasharray="1.35 1.35" fill="none"/>
<path d="M90.0 400.8 H126.8" stroke="#1400c8" stroke-width="1.55" fill="none"/>
<text x="131.2" y="366.7" font-size="16" text-anchor="start" >Case 1</text>
<text x="131.2" y="386.8" font-size="16" text-anchor="start" >Case 2</text>
<text x="131.2" y="406.8" font-size="16" text-anchor="start" >Case 3</text>
<g transform="translate(25.1,469.0) rotate(-90)"><text x="0" y="0" font-size="16" text-anchor="middle" letter-spacing="0.05">Power loss, <tspan font-style="italic">P</tspan><tspan font-style="italic" font-size="9.5" dy="1.5">loss</tspan><tspan dy="-1.5" dx="-0.6" font-size="16.9"> (W)</tspan></text></g>
<text x="141.6" y="607.1" font-size="16.35" text-anchor="start" >Crank angle,</text>
<text transform="translate(230.0,607.1) scale(1.2,1)" font-size="16" font-style="italic">θ</text>
<text x="241.3" y="607.1" font-size="16.15" text-anchor="start" >(degree)</text>
<defs>
<pattern id="hk" width="2.9" height="2.9" patternUnits="userSpaceOnUse" patternTransform="rotate(-45)"><rect width="2.9" height="2.9" fill="#05051c"/><rect width="2.9" height="0.9" fill="#0b0b2c"/></pattern>
<pattern id="hr" width="2.9" height="2.9" patternUnits="userSpaceOnUse" patternTransform="rotate(-45)"><rect width="2.9" height="2.9" fill="#ee0a24"/><rect width="2.9" height="0.9" fill="#d2001f"/></pattern>
</defs>
<rect x="486.40" y="524.62" width="21.0" height="41.38" fill="url(#hk)" stroke="#141450" stroke-width="0.6"/>
<rect x="513.00" y="525.64" width="21.0" height="40.36" fill="url(#hr)" stroke="#7a1060" stroke-width="0.6"/>
<rect x="539.60" y="520.20" width="21.0" height="45.80" fill="#0000ff" stroke="#0000ff" stroke-width="0.6"/>
<rect x="592.20" y="377.87" width="21.0" height="188.13" fill="url(#hk)" stroke="#141450" stroke-width="0.6"/>
<rect x="618.80" y="423.39" width="21.0" height="142.61" fill="url(#hr)" stroke="#7a1060" stroke-width="0.6"/>
<rect x="645.40" y="363.61" width="21.0" height="202.39" fill="#0000ff" stroke="#0000ff" stroke-width="0.6"/>
<rect x="698.60" y="476.04" width="21.0" height="89.96" fill="url(#hk)" stroke="#141450" stroke-width="0.6"/>
<rect x="725.20" y="492.01" width="21.0" height="73.99" fill="url(#hr)" stroke="#7a1060" stroke-width="0.6"/>
<rect x="751.80" y="469.59" width="21.0" height="96.41" fill="#0000ff" stroke="#0000ff" stroke-width="0.6"/>
<g stroke="#484848" stroke-width="1.2" fill="none">
<path d="M483.6 348.0 V566.0 H776.6"/>
<path d="M483.6 566.00 h4.5"/>
<path d="M483.6 538.83 h2.5"/>
<path d="M483.6 511.65 h4.5"/>
<path d="M483.6 484.48 h2.5"/>
<path d="M483.6 457.30 h4.5"/>
<path d="M483.6 430.12 h2.5"/>
<path d="M483.6 402.95 h4.5"/>
<path d="M483.6 375.78 h2.5"/>
<path d="M483.6 348.60 h4.5"/>
<path d="M497.02 566.0 v-2.5"/>
<path d="M510.26 566.0 v-2.5"/>
<path d="M523.50 566.0 v-4.5"/>
<path d="M536.74 566.0 v-2.5"/>
<path d="M549.98 566.0 v-2.5"/>
<path d="M563.22 566.0 v-2.5"/>
<path d="M576.46 566.0 v-2.5"/>
<path d="M589.70 566.0 v-2.5"/>
<path d="M602.94 566.0 v-2.5"/>
<path d="M616.18 566.0 v-2.5"/>
<path d="M629.42 566.0 v-4.5"/>
<path d="M642.66 566.0 v-2.5"/>
<path d="M655.90 566.0 v-2.5"/>
<path d="M669.14 566.0 v-2.5"/>
<path d="M682.38 566.0 v-2.5"/>
<path d="M695.62 566.0 v-2.5"/>
<path d="M708.86 566.0 v-2.5"/>
<path d="M722.10 566.0 v-2.5"/>
<path d="M735.34 566.0 v-4.5"/>
<path d="M748.58 566.0 v-2.5"/>
<path d="M761.82 566.0 v-2.5"/>
<path d="M775.06 566.0 v-2.5"/>
</g>
<text x="478.3" y="571.4" font-size="16" text-anchor="end" >0</text>
<text x="478.3" y="517.05" font-size="16" text-anchor="end" >16</text>
<text x="478.3" y="462.7" font-size="16" text-anchor="end" >32</text>
<text x="478.3" y="408.35" font-size="16" text-anchor="end" >48</text>
<text x="478.3" y="354.0" font-size="16" text-anchor="end" >64</text>
<text x="416.0" y="327.9" font-size="19.5" text-anchor="start" >(d)</text>
<rect x="493.0" y="353.2" width="36.0" height="17.5" fill="url(#hk)" stroke="#1a1a78" stroke-width="0.8"/>
<text x="533.1" y="366.9" font-size="16" text-anchor="start" >Case 1</text>
<rect x="493.0" y="373.0" width="36.0" height="17.5" fill="url(#hr)" stroke="#b070b0" stroke-width="0.8"/>
<text x="533.1" y="386.7" font-size="16" text-anchor="start" >Case 2</text>
<rect x="493.0" y="392.7" width="36.0" height="17.5" fill="#0000ff" stroke="#0000ff" stroke-width="0.8"/>
<text x="533.1" y="406.4" font-size="16" text-anchor="start" >Case 3</text>
<g transform="translate(444.8,458.4) rotate(-90)"><text x="0" y="0" font-size="16" text-anchor="middle" letter-spacing="0.16">Average power loss, <tspan font-style="italic">P</tspan><tspan font-style="italic" font-size="9.5" dy="1.5">ave</tspan><tspan dy="-1.5" dx="-0.6" font-size="16.9"> (W)</tspan></text></g>
<text x="521.5" y="582.9" font-size="16.2" text-anchor="middle" >Active</text>
<text x="521.9" y="602.8" font-size="16.2" text-anchor="middle" >cylinder</text>
<text x="630.4" y="582.9" font-size="16.2" text-anchor="middle" >Deactivated</text>
<text x="630.5" y="602.8" font-size="16.2" text-anchor="middle" >cylinder</text>
<text x="736.9" y="582.9" font-size="16.2" text-anchor="middle" >Standard</text>
<text x="738.9" y="602.8" font-size="16.2" text-anchor="middle" >operation</text>
</svg>
</body></html>
